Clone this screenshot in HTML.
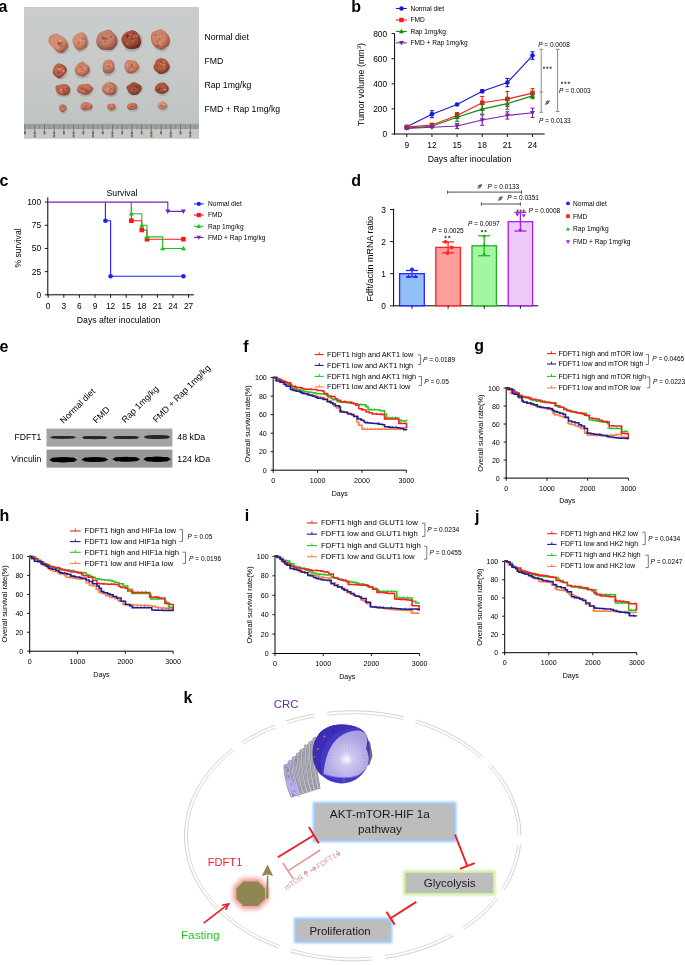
<!DOCTYPE html><html><head><meta charset="utf-8"><title>Figure</title><style>html,body{margin:0;padding:0;background:#fff;width:685px;height:965px;overflow:hidden}svg{display:block;will-change:transform}text{font-family:"Liberation Sans",sans-serif}</style></head><body>
<svg width="685" height="965" viewBox="0 0 685 965" font-family="&quot;Liberation Sans&quot;, sans-serif">
<defs>
<linearGradient id="photobg" x1="0" y1="0" x2="0" y2="1">
 <stop offset="0" stop-color="#cacdcd"/><stop offset="0.5" stop-color="#c6c9c8"/><stop offset="1" stop-color="#bdc2c0"/>
</linearGradient>
<radialGradient id="tumL" cx="0.45" cy="0.4" r="0.6">
 <stop offset="0" stop-color="#e29a82"/><stop offset="0.6" stop-color="#cf7b64"/><stop offset="1" stop-color="#a85848"/>
</radialGradient>
<radialGradient id="tumM" cx="0.45" cy="0.4" r="0.6">
 <stop offset="0" stop-color="#d48a72"/><stop offset="0.6" stop-color="#b86452"/><stop offset="1" stop-color="#8c4036"/>
</radialGradient>
<radialGradient id="tumD" cx="0.5" cy="0.45" r="0.6">
 <stop offset="0" stop-color="#b2604c"/><stop offset="0.55" stop-color="#94443a"/><stop offset="1" stop-color="#6a2820"/>
</radialGradient>
<radialGradient id="cutface" cx="0.5" cy="0.6" r="0.6">
 <stop offset="0" stop-color="#f2f0ff"/><stop offset="0.25" stop-color="#c8c0ee"/><stop offset="1" stop-color="#a89ee0"/>
</radialGradient>
<filter id="photoblur" x="-5%" y="-5%" width="110%" height="110%"><feGaussianBlur stdDeviation="0.45"/></filter>
<filter id="bandblur" x="-10%" y="-10%" width="120%" height="120%"><feGaussianBlur stdDeviation="0.75"/></filter>
<filter id="glow" x="-20%" y="-40%" width="140%" height="180%"><feGaussianBlur stdDeviation="1.3"/></filter>
<filter id="glow2" x="-50%" y="-50%" width="200%" height="200%"><feGaussianBlur stdDeviation="2.0"/></filter>
<filter id="cellblur" x="-10%" y="-10%" width="120%" height="120%"><feGaussianBlur stdDeviation="0.35"/></filter>
</defs>
<rect width="685" height="965" fill="#fff"/>
<text x="-1.60" y="11.70" font-size="16" text-anchor="start" fill="#000" font-weight="bold"  style="">a</text>
<g filter="url(#photoblur)">
<rect x="24" y="7" width="175" height="131.5" fill="url(#photobg)"/>
<path d="M50.38,39.36 C50.76,37.79 51.65,35.86 53.02,35.16 C54.39,34.45 56.77,34.80 58.60,35.15 C60.44,35.50 62.42,36.17 64.03,37.26 C65.64,38.35 67.44,40.09 68.26,41.71 C69.07,43.32 69.00,45.29 68.94,46.94 C68.89,48.60 68.79,50.45 67.93,51.65 C67.07,52.85 65.42,53.80 63.79,54.14 C62.15,54.48 59.80,54.49 58.13,53.68 C56.47,52.87 55.03,50.79 53.80,49.28 C52.57,47.76 51.32,46.22 50.75,44.57 C50.18,42.92 50.00,40.93 50.38,39.36 Z" fill="#8f9697" opacity="0.5"/>
<radialGradient id="tg0" cx="0.42" cy="0.38" r="0.65"><stop offset="0" stop-color="#d58c71"/><stop offset="0.5" stop-color="#d58c71"/><stop offset="1" stop-color="#96503c"/></radialGradient>
<path d="M62.79,52.79 C61.34,53.16 58.86,52.62 57.26,51.76 C55.65,50.89 54.54,49.04 53.16,47.59 C51.78,46.15 49.64,44.73 48.98,43.09 C48.31,41.44 48.53,39.14 49.16,37.72 C49.80,36.31 51.34,35.24 52.78,34.62 C54.22,34.00 56.13,33.62 57.79,34.00 C59.45,34.37 61.35,35.69 62.74,36.85 C64.13,38.02 65.20,39.47 66.13,40.97 C67.06,42.48 68.34,44.45 68.31,45.88 C68.28,47.31 66.88,48.39 65.96,49.54 C65.04,50.69 64.24,52.42 62.79,52.79 Z" fill="url(#tg0)"/>
<ellipse cx="59.55" cy="44.44" rx="1.25" ry="0.94" fill="#96503c" opacity="0.55"/>
<ellipse cx="60.96" cy="40.80" rx="0.85" ry="0.86" fill="#efc2b0" opacity="0.45"/>
<ellipse cx="56.95" cy="43.61" rx="1.30" ry="0.99" fill="#efc2b0" opacity="0.45"/>
<ellipse cx="58.29" cy="41.52" rx="1.00" ry="0.57" fill="#96503c" opacity="0.55"/>
<ellipse cx="59.19" cy="41.00" rx="0.75" ry="1.07" fill="#efc2b0" opacity="0.45"/>
<ellipse cx="58.90" cy="43.20" rx="1.87" ry="0.97" fill="#96503c" opacity="0.55"/>
<ellipse cx="61.77" cy="42.92" rx="1.48" ry="1.28" fill="#96503c" opacity="0.55"/>
<ellipse cx="58.82" cy="43.68" rx="1.95" ry="1.26" fill="#96503c" opacity="0.55"/>
<ellipse cx="60.22" cy="44.12" rx="0.68" ry="1.30" fill="#96503c" opacity="0.55"/>
<ellipse cx="60.69" cy="45.98" rx="0.87" ry="1.23" fill="#96503c" opacity="0.55"/>
<ellipse cx="62.09" cy="45.81" rx="1.19" ry="0.71" fill="#96503c" opacity="0.55"/>
<ellipse cx="58.03" cy="48.53" rx="0.67" ry="1.02" fill="#efc2b0" opacity="0.45"/>
<path d="M83.32,51.53 C81.97,52.13 80.06,52.61 78.68,52.14 C77.29,51.67 75.75,50.13 74.98,48.72 C74.22,47.31 74.32,45.43 74.08,43.68 C73.84,41.94 72.97,39.65 73.56,38.26 C74.14,36.87 76.21,36.03 77.57,35.33 C78.92,34.63 80.25,34.13 81.69,34.05 C83.13,33.97 85.09,33.95 86.23,34.84 C87.37,35.74 88.09,37.83 88.55,39.42 C89.00,41.01 89.25,42.87 88.95,44.39 C88.65,45.91 87.68,47.36 86.74,48.55 C85.81,49.74 84.66,50.93 83.32,51.53 Z" fill="#8f9697" opacity="0.5"/>
<radialGradient id="tg1" cx="0.42" cy="0.38" r="0.65"><stop offset="0" stop-color="#d48d6f"/><stop offset="0.5" stop-color="#d48d6f"/><stop offset="1" stop-color="#9b5840"/></radialGradient>
<path d="M87.02,46.30 C86.35,47.57 84.79,48.39 83.53,49.07 C82.27,49.76 80.75,50.57 79.44,50.39 C78.13,50.22 76.71,49.07 75.68,48.01 C74.66,46.94 73.81,45.53 73.29,44.00 C72.76,42.47 72.16,40.36 72.53,38.84 C72.90,37.33 74.37,35.93 75.51,34.90 C76.65,33.87 77.97,33.00 79.36,32.67 C80.75,32.33 82.67,32.16 83.85,32.89 C85.03,33.61 85.85,35.58 86.47,37.01 C87.09,38.44 87.48,39.91 87.57,41.46 C87.67,43.01 87.70,45.03 87.02,46.30 Z" fill="url(#tg1)"/>
<ellipse cx="84.14" cy="38.75" rx="0.87" ry="1.24" fill="#9b5840" opacity="0.55"/>
<ellipse cx="81.47" cy="41.05" rx="1.19" ry="0.82" fill="#efc2b0" opacity="0.45"/>
<ellipse cx="80.01" cy="41.80" rx="1.95" ry="0.74" fill="#9b5840" opacity="0.55"/>
<ellipse cx="80.11" cy="39.98" rx="0.94" ry="0.61" fill="#efc2b0" opacity="0.45"/>
<ellipse cx="82.23" cy="45.46" rx="0.92" ry="1.06" fill="#9b5840" opacity="0.55"/>
<ellipse cx="82.45" cy="38.47" rx="1.88" ry="0.70" fill="#9b5840" opacity="0.55"/>
<ellipse cx="81.92" cy="41.67" rx="0.68" ry="0.68" fill="#9b5840" opacity="0.55"/>
<ellipse cx="78.44" cy="44.09" rx="1.11" ry="1.39" fill="#9b5840" opacity="0.55"/>
<ellipse cx="83.97" cy="40.99" rx="0.93" ry="0.50" fill="#efc2b0" opacity="0.45"/>
<ellipse cx="80.59" cy="41.52" rx="1.03" ry="1.07" fill="#efc2b0" opacity="0.45"/>
<path d="M118.49,43.01 C118.17,44.87 117.01,46.77 115.75,48.25 C114.48,49.73 112.73,51.43 110.92,51.91 C109.12,52.39 106.91,51.62 104.91,51.15 C102.92,50.68 100.09,50.45 98.96,49.10 C97.83,47.74 98.28,44.98 98.11,43.03 C97.94,41.07 97.35,39.11 97.93,37.37 C98.51,35.63 100.00,33.73 101.61,32.58 C103.22,31.43 105.59,30.49 107.59,30.48 C109.59,30.46 111.93,31.37 113.62,32.47 C115.30,33.57 116.88,35.30 117.69,37.06 C118.50,38.81 118.82,41.14 118.49,43.01 Z" fill="#8f9697" opacity="0.5"/>
<radialGradient id="tg2" cx="0.42" cy="0.38" r="0.65"><stop offset="0" stop-color="#c47e6a"/><stop offset="0.5" stop-color="#c47e6a"/><stop offset="1" stop-color="#89493d"/></radialGradient>
<path d="M109.74,29.96 C111.46,30.44 112.92,32.44 114.17,33.89 C115.42,35.34 116.79,36.89 117.24,38.67 C117.70,40.46 117.62,42.84 116.90,44.58 C116.17,46.33 114.53,48.24 112.87,49.15 C111.22,50.06 108.92,50.03 106.96,50.03 C105.00,50.04 102.79,50.06 101.11,49.20 C99.44,48.34 97.69,46.56 96.92,44.87 C96.16,43.17 96.22,40.88 96.53,39.03 C96.85,37.18 97.57,35.11 98.79,33.78 C100.01,32.45 102.01,31.71 103.84,31.07 C105.66,30.43 108.02,29.49 109.74,29.96 Z" fill="url(#tg2)"/>
<ellipse cx="103.02" cy="38.21" rx="1.50" ry="1.49" fill="#89493d" opacity="0.55"/>
<ellipse cx="110.58" cy="36.83" rx="1.63" ry="1.08" fill="#89493d" opacity="0.55"/>
<ellipse cx="101.23" cy="42.43" rx="1.65" ry="0.53" fill="#89493d" opacity="0.55"/>
<ellipse cx="104.03" cy="38.32" rx="1.58" ry="1.00" fill="#89493d" opacity="0.55"/>
<ellipse cx="101.85" cy="36.11" rx="0.62" ry="0.80" fill="#89493d" opacity="0.55"/>
<ellipse cx="106.17" cy="39.04" rx="1.87" ry="1.16" fill="#89493d" opacity="0.55"/>
<ellipse cx="100.86" cy="42.51" rx="1.53" ry="0.70" fill="#89493d" opacity="0.55"/>
<ellipse cx="101.58" cy="42.66" rx="1.19" ry="0.67" fill="#efc2b0" opacity="0.45"/>
<ellipse cx="104.84" cy="39.21" rx="1.30" ry="1.34" fill="#89493d" opacity="0.55"/>
<ellipse cx="109.74" cy="36.28" rx="0.65" ry="0.52" fill="#efc2b0" opacity="0.45"/>
<ellipse cx="104.93" cy="40.88" rx="1.18" ry="1.13" fill="#89493d" opacity="0.55"/>
<ellipse cx="104.55" cy="40.39" rx="1.28" ry="0.72" fill="#efc2b0" opacity="0.45"/>
<ellipse cx="107.00" cy="40.40" rx="0.44" ry="0.90" fill="#efc2b0" opacity="0.45"/>
<ellipse cx="104.81" cy="39.38" rx="0.42" ry="0.50" fill="#efc2b0" opacity="0.45"/>
<path d="M123.64,43.90 C123.12,41.98 121.65,39.88 122.07,38.23 C122.49,36.58 124.66,35.04 126.17,33.99 C127.69,32.94 129.46,32.12 131.16,31.93 C132.85,31.74 134.66,32.24 136.36,32.86 C138.05,33.48 140.27,34.24 141.30,35.65 C142.34,37.05 142.59,39.42 142.59,41.30 C142.59,43.19 142.26,45.37 141.30,46.96 C140.35,48.55 138.59,50.02 136.87,50.87 C135.14,51.71 132.90,52.21 130.96,52.02 C129.01,51.82 126.42,51.07 125.20,49.71 C123.99,48.36 124.17,45.81 123.64,43.90 Z" fill="#8f9697" opacity="0.5"/>
<radialGradient id="tg3" cx="0.42" cy="0.38" r="0.65"><stop offset="0" stop-color="#a55139"/><stop offset="0.5" stop-color="#a55139"/><stop offset="1" stop-color="#62281b"/></radialGradient>
<path d="M127.90,31.57 C129.52,30.87 131.49,30.10 133.13,30.37 C134.76,30.63 136.54,31.95 137.71,33.16 C138.87,34.37 139.58,36.01 140.12,37.63 C140.65,39.25 141.23,41.18 140.91,42.88 C140.59,44.58 139.54,46.79 138.18,47.82 C136.82,48.86 134.54,48.99 132.77,49.10 C131.01,49.20 129.13,49.13 127.59,48.45 C126.05,47.77 124.57,46.45 123.54,45.02 C122.51,43.58 121.44,41.59 121.41,39.85 C121.39,38.11 122.32,35.94 123.40,34.56 C124.48,33.18 126.28,32.26 127.90,31.57 Z" fill="url(#tg3)"/>
<ellipse cx="127.69" cy="36.59" rx="1.71" ry="1.41" fill="#62281b" opacity="0.55"/>
<ellipse cx="137.06" cy="43.33" rx="0.52" ry="0.72" fill="#efc2b0" opacity="0.45"/>
<ellipse cx="127.19" cy="35.58" rx="1.40" ry="1.38" fill="#62281b" opacity="0.55"/>
<ellipse cx="133.46" cy="33.80" rx="1.51" ry="0.70" fill="#62281b" opacity="0.55"/>
<ellipse cx="130.60" cy="34.48" rx="1.05" ry="0.55" fill="#efc2b0" opacity="0.45"/>
<ellipse cx="137.03" cy="36.03" rx="0.88" ry="0.95" fill="#efc2b0" opacity="0.45"/>
<ellipse cx="128.93" cy="45.64" rx="0.71" ry="0.46" fill="#efc2b0" opacity="0.45"/>
<ellipse cx="128.08" cy="41.37" rx="0.84" ry="0.42" fill="#efc2b0" opacity="0.45"/>
<ellipse cx="131.76" cy="39.59" rx="0.56" ry="0.63" fill="#efc2b0" opacity="0.45"/>
<ellipse cx="131.83" cy="39.06" rx="1.32" ry="1.22" fill="#62281b" opacity="0.55"/>
<ellipse cx="134.12" cy="36.00" rx="0.84" ry="1.06" fill="#efc2b0" opacity="0.45"/>
<ellipse cx="132.90" cy="40.78" rx="0.66" ry="0.91" fill="#efc2b0" opacity="0.45"/>
<ellipse cx="129.29" cy="37.26" rx="0.90" ry="0.62" fill="#efc2b0" opacity="0.45"/>
<ellipse cx="127.35" cy="43.94" rx="0.59" ry="1.00" fill="#efc2b0" opacity="0.45"/>
<path d="M168.66,35.62 C169.62,37.43 170.48,39.73 170.46,41.61 C170.44,43.50 169.42,45.35 168.55,46.91 C167.67,48.48 166.63,50.27 165.19,51.01 C163.76,51.75 161.65,51.76 159.94,51.36 C158.22,50.95 156.08,50.00 154.90,48.58 C153.71,47.16 153.48,44.84 152.81,42.85 C152.15,40.86 150.63,38.43 150.89,36.64 C151.16,34.85 153.03,33.17 154.42,32.10 C155.81,31.04 157.50,30.46 159.21,30.23 C160.92,30.01 163.11,29.86 164.68,30.76 C166.25,31.66 167.69,33.82 168.66,35.62 Z" fill="#8f9697" opacity="0.5"/>
<radialGradient id="tg4" cx="0.42" cy="0.38" r="0.65"><stop offset="0" stop-color="#cf8368"/><stop offset="0.5" stop-color="#cf8368"/><stop offset="1" stop-color="#924d3a"/></radialGradient>
<path d="M150.99,38.47 C150.89,36.57 151.11,34.11 152.01,32.78 C152.92,31.46 154.91,31.08 156.43,30.51 C157.94,29.93 159.57,28.99 161.11,29.32 C162.66,29.65 164.30,31.13 165.68,32.48 C167.06,33.82 168.77,35.52 169.40,37.40 C170.03,39.28 170.06,42.04 169.45,43.74 C168.85,45.44 167.10,46.59 165.77,47.61 C164.44,48.63 162.97,49.81 161.46,49.84 C159.94,49.87 158.16,48.76 156.68,47.82 C155.21,46.87 153.55,45.72 152.60,44.16 C151.65,42.60 151.09,40.36 150.99,38.47 Z" fill="url(#tg4)"/>
<ellipse cx="162.21" cy="33.37" rx="1.04" ry="0.69" fill="#924d3a" opacity="0.55"/>
<ellipse cx="155.79" cy="34.88" rx="1.69" ry="0.52" fill="#924d3a" opacity="0.55"/>
<ellipse cx="160.48" cy="41.08" rx="0.69" ry="0.65" fill="#efc2b0" opacity="0.45"/>
<ellipse cx="159.53" cy="38.97" rx="0.51" ry="0.76" fill="#efc2b0" opacity="0.45"/>
<ellipse cx="160.00" cy="40.97" rx="0.79" ry="0.66" fill="#efc2b0" opacity="0.45"/>
<ellipse cx="157.21" cy="41.54" rx="0.89" ry="1.13" fill="#924d3a" opacity="0.55"/>
<ellipse cx="157.89" cy="36.50" rx="0.95" ry="1.00" fill="#efc2b0" opacity="0.45"/>
<ellipse cx="160.50" cy="44.96" rx="1.21" ry="0.62" fill="#efc2b0" opacity="0.45"/>
<ellipse cx="157.75" cy="45.79" rx="2.00" ry="1.39" fill="#924d3a" opacity="0.55"/>
<ellipse cx="160.98" cy="40.82" rx="0.63" ry="0.47" fill="#efc2b0" opacity="0.45"/>
<ellipse cx="161.28" cy="36.78" rx="0.51" ry="0.68" fill="#efc2b0" opacity="0.45"/>
<ellipse cx="159.96" cy="39.38" rx="1.56" ry="1.41" fill="#924d3a" opacity="0.55"/>
<ellipse cx="160.70" cy="39.33" rx="1.08" ry="0.75" fill="#efc2b0" opacity="0.45"/>
<path d="M57.83,65.35 C59.07,64.97 60.39,64.82 61.58,65.05 C62.77,65.27 64.08,65.87 64.95,66.71 C65.82,67.55 66.40,68.85 66.81,70.10 C67.22,71.36 67.72,72.95 67.43,74.23 C67.15,75.50 66.12,76.88 65.11,77.77 C64.10,78.66 62.63,79.47 61.38,79.55 C60.13,79.63 58.69,78.91 57.59,78.26 C56.48,77.60 55.39,76.70 54.75,75.62 C54.10,74.53 53.83,73.12 53.73,71.74 C53.62,70.37 53.44,68.43 54.12,67.36 C54.81,66.30 56.59,65.74 57.83,65.35 Z" fill="#8f9697" opacity="0.5"/>
<radialGradient id="tg5" cx="0.42" cy="0.38" r="0.65"><stop offset="0" stop-color="#bb644b"/><stop offset="0.5" stop-color="#bb644b"/><stop offset="1" stop-color="#763023"/></radialGradient>
<path d="M66.97,70.10 C66.95,71.36 65.80,72.77 65.06,73.81 C64.32,74.86 63.54,75.62 62.53,76.39 C61.53,77.16 60.19,78.44 59.02,78.43 C57.85,78.41 56.54,77.16 55.52,76.29 C54.49,75.42 53.26,74.40 52.87,73.20 C52.49,71.99 52.87,70.35 53.20,69.07 C53.53,67.79 54.02,66.43 54.86,65.51 C55.69,64.58 57.01,63.79 58.20,63.53 C59.39,63.28 60.82,63.52 61.99,63.97 C63.15,64.42 64.35,65.22 65.18,66.24 C66.01,67.26 66.99,68.84 66.97,70.10 Z" fill="url(#tg5)"/>
<ellipse cx="62.93" cy="70.89" rx="0.56" ry="0.72" fill="#efc2b0" opacity="0.45"/>
<ellipse cx="59.47" cy="68.56" rx="0.83" ry="1.01" fill="#763023" opacity="0.55"/>
<ellipse cx="63.83" cy="71.04" rx="1.03" ry="1.00" fill="#efc2b0" opacity="0.45"/>
<ellipse cx="58.27" cy="69.12" rx="0.85" ry="1.09" fill="#efc2b0" opacity="0.45"/>
<ellipse cx="60.01" cy="69.37" rx="1.07" ry="0.94" fill="#efc2b0" opacity="0.45"/>
<ellipse cx="60.36" cy="68.72" rx="1.19" ry="0.89" fill="#efc2b0" opacity="0.45"/>
<ellipse cx="59.99" cy="66.76" rx="1.61" ry="0.57" fill="#763023" opacity="0.55"/>
<ellipse cx="58.39" cy="72.58" rx="1.10" ry="1.14" fill="#763023" opacity="0.55"/>
<path d="M77.64,65.62 C78.65,64.52 79.69,62.91 81.03,62.52 C82.36,62.12 84.34,62.61 85.65,63.23 C86.97,63.85 88.03,65.07 88.90,66.23 C89.78,67.38 90.76,68.78 90.92,70.16 C91.08,71.54 90.57,73.28 89.87,74.53 C89.17,75.78 87.96,77.01 86.72,77.66 C85.48,78.31 83.90,78.40 82.42,78.41 C80.93,78.42 78.98,78.50 77.81,77.71 C76.65,76.92 75.88,75.09 75.41,73.66 C74.93,72.24 74.59,70.48 74.96,69.14 C75.33,67.80 76.63,66.73 77.64,65.62 Z" fill="#8f9697" opacity="0.5"/>
<radialGradient id="tg6" cx="0.42" cy="0.38" r="0.65"><stop offset="0" stop-color="#ce8064"/><stop offset="0.5" stop-color="#ce8064"/><stop offset="1" stop-color="#924e3d"/></radialGradient>
<path d="M82.58,61.41 C83.81,61.55 84.93,63.23 86.01,64.14 C87.10,65.05 88.50,65.69 89.09,66.85 C89.69,68.02 89.93,69.88 89.58,71.15 C89.22,72.42 87.98,73.57 86.98,74.48 C85.97,75.38 84.76,76.37 83.54,76.59 C82.32,76.81 80.83,76.30 79.65,75.81 C78.46,75.32 77.24,74.63 76.44,73.66 C75.63,72.70 74.87,71.25 74.80,70.02 C74.73,68.78 75.39,67.35 76.03,66.24 C76.66,65.12 77.54,64.13 78.63,63.33 C79.72,62.52 81.35,61.27 82.58,61.41 Z" fill="url(#tg6)"/>
<ellipse cx="84.36" cy="67.90" rx="1.27" ry="0.80" fill="#efc2b0" opacity="0.45"/>
<ellipse cx="85.30" cy="69.39" rx="0.47" ry="0.82" fill="#efc2b0" opacity="0.45"/>
<ellipse cx="82.01" cy="69.27" rx="0.54" ry="0.73" fill="#efc2b0" opacity="0.45"/>
<ellipse cx="83.25" cy="71.74" rx="0.45" ry="1.06" fill="#efc2b0" opacity="0.45"/>
<ellipse cx="79.60" cy="70.81" rx="0.73" ry="0.60" fill="#efc2b0" opacity="0.45"/>
<ellipse cx="80.36" cy="67.10" rx="1.60" ry="0.80" fill="#924e3d" opacity="0.55"/>
<ellipse cx="83.26" cy="69.61" rx="0.82" ry="1.25" fill="#924e3d" opacity="0.55"/>
<ellipse cx="78.42" cy="72.47" rx="0.45" ry="1.09" fill="#efc2b0" opacity="0.45"/>
<path d="M115.22,66.85 C115.39,68.34 116.14,70.03 115.74,71.30 C115.33,72.57 113.86,73.68 112.79,74.46 C111.72,75.25 110.53,75.80 109.30,76.01 C108.08,76.22 106.37,76.43 105.43,75.73 C104.49,75.02 104.09,73.12 103.66,71.78 C103.22,70.44 102.75,69.11 102.79,67.68 C102.84,66.25 103.16,64.35 103.92,63.19 C104.68,62.02 106.17,61.08 107.37,60.68 C108.57,60.28 109.90,60.50 111.13,60.78 C112.35,61.05 114.03,61.32 114.72,62.33 C115.40,63.35 115.05,65.35 115.22,66.85 Z" fill="#8f9697" opacity="0.5"/>
<radialGradient id="tg7" cx="0.42" cy="0.38" r="0.65"><stop offset="0" stop-color="#cb836a"/><stop offset="0.5" stop-color="#cb836a"/><stop offset="1" stop-color="#90503e"/></radialGradient>
<path d="M112.08,60.63 C112.90,61.37 113.27,62.89 113.68,64.11 C114.10,65.34 114.72,66.73 114.57,68.00 C114.42,69.26 113.58,70.78 112.77,71.72 C111.96,72.66 110.76,73.34 109.72,73.63 C108.67,73.91 107.56,73.74 106.53,73.45 C105.49,73.17 104.14,72.81 103.51,71.91 C102.88,71.01 102.82,69.35 102.74,68.04 C102.66,66.73 102.60,65.28 103.03,64.04 C103.45,62.81 104.32,61.36 105.27,60.64 C106.22,59.92 107.61,59.70 108.74,59.70 C109.88,59.70 111.26,59.90 112.08,60.63 Z" fill="url(#tg7)"/>
<ellipse cx="108.21" cy="70.01" rx="1.69" ry="1.03" fill="#90503e" opacity="0.55"/>
<ellipse cx="112.47" cy="66.91" rx="0.61" ry="0.48" fill="#efc2b0" opacity="0.45"/>
<ellipse cx="111.01" cy="64.45" rx="0.72" ry="0.59" fill="#efc2b0" opacity="0.45"/>
<ellipse cx="107.44" cy="64.32" rx="0.97" ry="0.93" fill="#efc2b0" opacity="0.45"/>
<ellipse cx="108.79" cy="68.20" rx="1.22" ry="1.02" fill="#efc2b0" opacity="0.45"/>
<ellipse cx="108.65" cy="67.08" rx="1.20" ry="1.12" fill="#90503e" opacity="0.55"/>
<ellipse cx="110.25" cy="68.68" rx="0.72" ry="1.18" fill="#90503e" opacity="0.55"/>
<path d="M124.99,65.57 C125.46,64.38 126.63,63.29 127.72,62.51 C128.82,61.73 130.25,60.98 131.55,60.87 C132.86,60.77 134.38,61.32 135.57,61.89 C136.77,62.46 137.91,63.29 138.71,64.31 C139.51,65.33 140.31,66.74 140.37,68.03 C140.43,69.31 139.97,71.09 139.09,72.03 C138.21,72.98 136.41,73.35 135.09,73.70 C133.78,74.06 132.55,74.24 131.19,74.17 C129.83,74.10 127.98,74.03 126.93,73.27 C125.88,72.50 125.19,70.89 124.86,69.61 C124.54,68.33 124.51,66.75 124.99,65.57 Z" fill="#8f9697" opacity="0.5"/>
<radialGradient id="tg8" cx="0.42" cy="0.38" r="0.65"><stop offset="0" stop-color="#d28568"/><stop offset="0.5" stop-color="#d28568"/><stop offset="1" stop-color="#96513e"/></radialGradient>
<path d="M132.28,60.32 C133.60,60.55 135.04,60.76 135.99,61.47 C136.95,62.18 137.54,63.43 138.02,64.57 C138.50,65.70 139.19,67.18 138.89,68.29 C138.60,69.40 137.26,70.42 136.24,71.24 C135.21,72.06 134.06,72.88 132.76,73.20 C131.45,73.53 129.58,73.69 128.41,73.17 C127.25,72.65 126.46,71.17 125.76,70.09 C125.06,69.01 124.35,67.88 124.23,66.68 C124.11,65.49 124.40,64.02 125.04,62.92 C125.67,61.82 126.86,60.51 128.06,60.08 C129.27,59.64 130.96,60.09 132.28,60.32 Z" fill="url(#tg8)"/>
<ellipse cx="129.83" cy="67.25" rx="1.83" ry="0.58" fill="#96513e" opacity="0.55"/>
<ellipse cx="133.97" cy="67.80" rx="1.56" ry="0.80" fill="#96513e" opacity="0.55"/>
<ellipse cx="131.56" cy="66.15" rx="1.53" ry="0.58" fill="#96513e" opacity="0.55"/>
<ellipse cx="130.29" cy="69.66" rx="0.65" ry="0.50" fill="#efc2b0" opacity="0.45"/>
<ellipse cx="129.21" cy="69.12" rx="0.76" ry="1.21" fill="#96513e" opacity="0.55"/>
<ellipse cx="127.30" cy="64.72" rx="1.22" ry="0.71" fill="#efc2b0" opacity="0.45"/>
<ellipse cx="132.00" cy="65.17" rx="1.16" ry="1.43" fill="#96513e" opacity="0.55"/>
<path d="M168.91,62.67 C169.76,63.88 170.57,65.23 170.74,66.59 C170.90,67.95 170.54,69.61 169.87,70.84 C169.20,72.07 167.98,73.26 166.72,73.96 C165.46,74.66 163.75,75.09 162.30,75.03 C160.84,74.96 159.12,74.41 157.98,73.58 C156.84,72.75 156.05,71.34 155.46,70.04 C154.87,68.74 154.30,67.19 154.45,65.77 C154.60,64.35 155.30,62.55 156.35,61.51 C157.40,60.48 159.20,59.92 160.74,59.56 C162.29,59.19 164.25,58.82 165.61,59.34 C166.98,59.86 168.05,61.47 168.91,62.67 Z" fill="#8f9697" opacity="0.5"/>
<radialGradient id="tg9" cx="0.42" cy="0.38" r="0.65"><stop offset="0" stop-color="#b15c43"/><stop offset="0.5" stop-color="#b15c43"/><stop offset="1" stop-color="#6f2f21"/></radialGradient>
<path d="M154.97,63.32 C155.56,62.00 155.97,60.42 157.06,59.52 C158.15,58.62 160.06,57.88 161.50,57.93 C162.93,57.99 164.54,58.99 165.65,59.83 C166.77,60.67 167.52,61.80 168.19,62.96 C168.86,64.13 169.71,65.51 169.68,66.80 C169.65,68.10 168.90,69.68 168.01,70.75 C167.11,71.82 165.72,72.68 164.33,73.21 C162.94,73.75 161.08,74.27 159.66,73.94 C158.25,73.62 156.86,72.35 155.84,71.27 C154.82,70.18 153.70,68.74 153.55,67.41 C153.41,66.09 154.39,64.63 154.97,63.32 Z" fill="url(#tg9)"/>
<ellipse cx="164.58" cy="67.12" rx="0.48" ry="0.46" fill="#efc2b0" opacity="0.45"/>
<ellipse cx="161.38" cy="61.30" rx="1.49" ry="0.64" fill="#6f2f21" opacity="0.55"/>
<ellipse cx="161.70" cy="62.59" rx="0.91" ry="1.27" fill="#6f2f21" opacity="0.55"/>
<ellipse cx="157.61" cy="65.46" rx="1.07" ry="1.47" fill="#6f2f21" opacity="0.55"/>
<ellipse cx="160.52" cy="63.71" rx="1.05" ry="0.90" fill="#efc2b0" opacity="0.45"/>
<ellipse cx="163.75" cy="64.90" rx="1.00" ry="1.00" fill="#efc2b0" opacity="0.45"/>
<ellipse cx="163.38" cy="61.89" rx="1.26" ry="0.85" fill="#efc2b0" opacity="0.45"/>
<ellipse cx="157.92" cy="65.45" rx="0.78" ry="0.69" fill="#efc2b0" opacity="0.45"/>
<ellipse cx="164.29" cy="69.09" rx="0.74" ry="0.52" fill="#efc2b0" opacity="0.45"/>
<path d="M66.13,96.95 C64.77,97.24 63.23,97.03 61.75,96.79 C60.28,96.55 58.14,96.34 57.30,95.49 C56.45,94.65 56.75,92.93 56.68,91.74 C56.61,90.55 56.36,89.32 56.90,88.35 C57.43,87.39 58.73,86.61 59.90,85.94 C61.06,85.26 62.46,84.43 63.89,84.31 C65.31,84.19 67.31,84.53 68.45,85.21 C69.59,85.89 70.26,87.32 70.70,88.40 C71.15,89.49 71.26,90.61 71.13,91.72 C70.99,92.83 70.74,94.18 69.91,95.05 C69.07,95.92 67.49,96.66 66.13,96.95 Z" fill="#8f9697" opacity="0.5"/>
<radialGradient id="tg10" cx="0.42" cy="0.38" r="0.65"><stop offset="0" stop-color="#be694e"/><stop offset="0.5" stop-color="#be694e"/><stop offset="1" stop-color="#813b2b"/></radialGradient>
<path d="M55.89,86.34 C56.58,85.49 58.56,85.13 59.86,84.75 C61.16,84.38 62.43,84.02 63.69,84.10 C64.94,84.17 66.40,84.58 67.42,85.19 C68.43,85.80 69.35,86.80 69.78,87.76 C70.21,88.72 70.21,89.89 69.99,90.95 C69.77,92.02 69.38,93.37 68.46,94.14 C67.53,94.92 65.80,95.49 64.44,95.61 C63.09,95.73 61.52,95.32 60.31,94.86 C59.10,94.40 57.95,93.68 57.19,92.85 C56.43,92.02 55.96,90.94 55.74,89.86 C55.52,88.77 55.20,87.19 55.89,86.34 Z" fill="url(#tg10)"/>
<ellipse cx="64.89" cy="92.41" rx="1.37" ry="1.32" fill="#813b2b" opacity="0.55"/>
<ellipse cx="61.63" cy="89.74" rx="1.22" ry="0.64" fill="#efc2b0" opacity="0.45"/>
<ellipse cx="58.13" cy="88.43" rx="0.91" ry="0.55" fill="#813b2b" opacity="0.55"/>
<ellipse cx="67.03" cy="88.50" rx="1.34" ry="1.02" fill="#813b2b" opacity="0.55"/>
<ellipse cx="62.20" cy="93.71" rx="0.61" ry="0.41" fill="#efc2b0" opacity="0.45"/>
<ellipse cx="61.05" cy="89.87" rx="1.04" ry="0.82" fill="#efc2b0" opacity="0.45"/>
<ellipse cx="63.46" cy="90.15" rx="0.96" ry="1.37" fill="#813b2b" opacity="0.55"/>
<path d="M77.10,90.68 C76.94,89.66 77.23,88.15 78.17,87.32 C79.10,86.49 81.17,86.10 82.68,85.69 C84.20,85.28 85.85,84.75 87.25,84.87 C88.64,84.99 89.87,85.81 91.05,86.44 C92.22,87.07 93.97,87.77 94.27,88.65 C94.57,89.54 93.35,90.74 92.85,91.78 C92.34,92.82 92.30,94.13 91.26,94.90 C90.22,95.68 88.21,96.24 86.61,96.43 C85.01,96.61 82.92,96.52 81.66,96.02 C80.40,95.52 79.83,94.31 79.07,93.42 C78.31,92.53 77.25,91.69 77.10,90.68 Z" fill="#8f9697" opacity="0.5"/>
<radialGradient id="tg11" cx="0.42" cy="0.38" r="0.65"><stop offset="0" stop-color="#c87358"/><stop offset="0.5" stop-color="#c87358"/><stop offset="1" stop-color="#8c4534"/></radialGradient>
<path d="M84.24,94.65 C82.81,94.54 81.57,93.81 80.42,93.27 C79.28,92.73 77.93,92.20 77.36,91.41 C76.80,90.61 76.83,89.49 77.04,88.51 C77.25,87.53 77.62,86.24 78.62,85.51 C79.62,84.77 81.52,84.39 83.04,84.11 C84.57,83.83 86.44,83.52 87.76,83.81 C89.07,84.11 90.01,85.12 90.92,85.88 C91.83,86.63 93.09,87.46 93.22,88.36 C93.35,89.26 92.41,90.36 91.70,91.29 C91.00,92.22 90.22,93.37 88.97,93.93 C87.73,94.49 85.66,94.76 84.24,94.65 Z" fill="url(#tg11)"/>
<ellipse cx="88.69" cy="90.83" rx="1.36" ry="1.03" fill="#8c4534" opacity="0.55"/>
<ellipse cx="87.36" cy="91.73" rx="1.04" ry="0.58" fill="#8c4534" opacity="0.55"/>
<ellipse cx="83.91" cy="90.80" rx="0.72" ry="0.88" fill="#efc2b0" opacity="0.45"/>
<ellipse cx="86.54" cy="90.08" rx="1.95" ry="1.33" fill="#8c4534" opacity="0.55"/>
<ellipse cx="84.76" cy="89.16" rx="1.59" ry="0.74" fill="#8c4534" opacity="0.55"/>
<ellipse cx="82.44" cy="88.55" rx="1.99" ry="1.30" fill="#8c4534" opacity="0.55"/>
<ellipse cx="85.73" cy="91.36" rx="1.13" ry="1.04" fill="#8c4534" opacity="0.55"/>
<path d="M108.38,96.64 C107.09,96.26 105.77,95.43 104.83,94.45 C103.88,93.47 102.85,92.04 102.71,90.76 C102.57,89.48 103.31,87.92 103.99,86.77 C104.67,85.63 105.66,84.67 106.79,83.89 C107.91,83.10 109.41,82.06 110.73,82.06 C112.05,82.05 113.46,83.10 114.72,83.85 C115.98,84.60 117.69,85.38 118.28,86.57 C118.88,87.76 118.58,89.59 118.30,90.99 C118.02,92.38 117.55,94.01 116.59,94.96 C115.64,95.91 113.95,96.41 112.58,96.69 C111.21,96.97 109.68,97.01 108.38,96.64 Z" fill="#8f9697" opacity="0.5"/>
<radialGradient id="tg12" cx="0.42" cy="0.38" r="0.65"><stop offset="0" stop-color="#c88068"/><stop offset="0.5" stop-color="#c88068"/><stop offset="1" stop-color="#8c4c3c"/></radialGradient>
<path d="M112.80,82.80 C113.88,83.36 114.98,84.27 115.58,85.28 C116.18,86.28 116.36,87.59 116.40,88.83 C116.44,90.08 116.49,91.66 115.84,92.73 C115.19,93.81 113.74,94.92 112.49,95.28 C111.25,95.65 109.67,95.23 108.38,94.93 C107.08,94.62 105.78,94.23 104.74,93.45 C103.69,92.66 102.46,91.45 102.12,90.23 C101.78,89.01 102.11,87.27 102.68,86.14 C103.26,85.01 104.52,84.14 105.58,83.43 C106.65,82.73 107.87,82.02 109.07,81.91 C110.28,81.80 111.71,82.24 112.80,82.80 Z" fill="url(#tg12)"/>
<ellipse cx="110.05" cy="89.01" rx="0.70" ry="1.42" fill="#8c4c3c" opacity="0.55"/>
<ellipse cx="107.36" cy="89.61" rx="1.09" ry="0.97" fill="#efc2b0" opacity="0.45"/>
<ellipse cx="108.42" cy="89.57" rx="0.62" ry="0.90" fill="#8c4c3c" opacity="0.55"/>
<ellipse cx="108.14" cy="83.93" rx="0.99" ry="0.83" fill="#efc2b0" opacity="0.45"/>
<ellipse cx="111.38" cy="88.69" rx="1.51" ry="0.61" fill="#8c4c3c" opacity="0.55"/>
<ellipse cx="107.83" cy="90.24" rx="1.14" ry="0.83" fill="#efc2b0" opacity="0.45"/>
<ellipse cx="111.83" cy="91.65" rx="0.89" ry="0.65" fill="#efc2b0" opacity="0.45"/>
<ellipse cx="108.98" cy="88.50" rx="1.29" ry="0.76" fill="#efc2b0" opacity="0.45"/>
<path d="M133.29,83.34 C134.71,83.21 136.19,83.94 137.62,84.34 C139.05,84.75 140.96,84.91 141.87,85.76 C142.78,86.60 143.13,88.24 143.07,89.40 C143.02,90.56 142.30,91.78 141.55,92.71 C140.80,93.63 139.72,94.43 138.56,94.95 C137.40,95.48 135.98,95.85 134.61,95.87 C133.25,95.88 131.57,95.65 130.39,95.04 C129.21,94.43 127.96,93.29 127.52,92.22 C127.08,91.16 127.47,89.83 127.73,88.64 C127.99,87.45 128.15,85.97 129.08,85.09 C130.00,84.21 131.86,83.46 133.29,83.34 Z" fill="#8f9697" opacity="0.5"/>
<radialGradient id="tg13" cx="0.42" cy="0.38" r="0.65"><stop offset="0" stop-color="#a0513c"/><stop offset="0.5" stop-color="#a0513c"/><stop offset="1" stop-color="#682e20"/></radialGradient>
<path d="M129.48,93.09 C128.56,92.29 128.18,91.26 127.67,90.22 C127.15,89.19 126.06,87.83 126.39,86.88 C126.72,85.93 128.53,85.29 129.62,84.53 C130.71,83.76 131.67,82.53 132.93,82.30 C134.19,82.07 135.94,82.65 137.19,83.15 C138.44,83.64 139.68,84.40 140.43,85.29 C141.18,86.18 141.73,87.46 141.69,88.50 C141.65,89.55 140.87,90.58 140.19,91.56 C139.52,92.54 138.81,93.78 137.65,94.36 C136.48,94.94 134.54,95.24 133.18,95.03 C131.82,94.82 130.40,93.89 129.48,93.09 Z" fill="url(#tg13)"/>
<ellipse cx="135.47" cy="86.33" rx="1.75" ry="0.79" fill="#682e20" opacity="0.55"/>
<ellipse cx="135.19" cy="88.00" rx="1.15" ry="0.53" fill="#efc2b0" opacity="0.45"/>
<ellipse cx="133.82" cy="88.51" rx="0.85" ry="1.49" fill="#682e20" opacity="0.55"/>
<ellipse cx="137.36" cy="87.58" rx="1.54" ry="1.24" fill="#682e20" opacity="0.55"/>
<ellipse cx="131.95" cy="90.26" rx="0.41" ry="0.54" fill="#efc2b0" opacity="0.45"/>
<ellipse cx="133.47" cy="88.72" rx="1.40" ry="0.67" fill="#682e20" opacity="0.55"/>
<ellipse cx="132.84" cy="88.47" rx="0.70" ry="0.85" fill="#efc2b0" opacity="0.45"/>
<path d="M169.64,91.06 C169.28,92.06 168.02,92.80 167.09,93.63 C166.16,94.46 165.24,95.76 164.05,96.03 C162.86,96.31 161.13,95.78 159.95,95.28 C158.76,94.79 157.64,93.96 156.93,93.06 C156.23,92.16 155.82,90.97 155.73,89.88 C155.64,88.79 155.80,87.50 156.39,86.53 C156.98,85.56 158.12,84.60 159.27,84.07 C160.42,83.53 161.99,83.22 163.30,83.32 C164.61,83.42 166.16,83.92 167.14,84.65 C168.13,85.37 168.78,86.57 169.20,87.64 C169.61,88.71 169.99,90.06 169.64,91.06 Z" fill="#8f9697" opacity="0.5"/>
<radialGradient id="tg14" cx="0.42" cy="0.38" r="0.65"><stop offset="0" stop-color="#aa5743"/><stop offset="0.5" stop-color="#aa5743"/><stop offset="1" stop-color="#6f2f20"/></radialGradient>
<path d="M168.74,88.08 C168.89,89.10 168.47,90.50 167.78,91.35 C167.09,92.21 165.74,92.81 164.61,93.21 C163.48,93.62 162.20,93.88 161.01,93.80 C159.83,93.71 158.52,93.32 157.51,92.72 C156.50,92.13 155.31,91.19 154.93,90.22 C154.56,89.25 154.90,87.92 155.27,86.92 C155.64,85.91 156.30,84.86 157.17,84.19 C158.05,83.51 159.33,83.11 160.54,82.86 C161.74,82.62 163.36,82.31 164.42,82.70 C165.49,83.10 166.20,84.32 166.92,85.21 C167.64,86.11 168.60,87.06 168.74,88.08 Z" fill="url(#tg14)"/>
<ellipse cx="164.86" cy="89.26" rx="1.06" ry="0.82" fill="#efc2b0" opacity="0.45"/>
<ellipse cx="161.71" cy="87.11" rx="0.46" ry="0.49" fill="#efc2b0" opacity="0.45"/>
<ellipse cx="159.51" cy="88.95" rx="0.67" ry="1.19" fill="#6f2f20" opacity="0.55"/>
<ellipse cx="160.61" cy="88.15" rx="1.15" ry="0.74" fill="#6f2f20" opacity="0.55"/>
<ellipse cx="165.53" cy="89.79" rx="1.00" ry="1.01" fill="#efc2b0" opacity="0.45"/>
<ellipse cx="158.43" cy="89.80" rx="1.65" ry="1.07" fill="#6f2f20" opacity="0.55"/>
<path d="M66.79,107.24 C67.23,107.92 68.01,108.61 68.04,109.32 C68.07,110.04 67.38,110.85 66.97,111.52 C66.55,112.19 66.18,112.93 65.56,113.37 C64.94,113.81 63.93,114.30 63.23,114.16 C62.54,114.02 61.93,113.08 61.39,112.52 C60.86,111.96 60.26,111.47 60.01,110.80 C59.76,110.13 59.72,109.21 59.88,108.49 C60.05,107.77 60.47,106.95 61.00,106.47 C61.52,106.00 62.29,105.85 63.03,105.64 C63.76,105.43 64.75,104.94 65.38,105.21 C66.01,105.47 66.35,106.55 66.79,107.24 Z" fill="#8f9697" opacity="0.5"/>
<radialGradient id="tg15" cx="0.42" cy="0.38" r="0.65"><stop offset="0" stop-color="#c8735a"/><stop offset="0.5" stop-color="#c8735a"/><stop offset="1" stop-color="#8c4534"/></radialGradient>
<path d="M64.24,104.69 C64.84,104.98 65.40,105.52 65.78,106.09 C66.17,106.66 66.58,107.46 66.56,108.12 C66.54,108.78 66.05,109.51 65.67,110.06 C65.28,110.60 64.81,111.00 64.25,111.39 C63.69,111.77 62.93,112.43 62.31,112.38 C61.69,112.33 61.03,111.58 60.52,111.08 C60.02,110.58 59.54,110.04 59.27,109.37 C59.01,108.71 58.78,107.81 58.92,107.09 C59.06,106.36 59.54,105.48 60.09,105.03 C60.63,104.57 61.51,104.43 62.20,104.37 C62.90,104.32 63.64,104.41 64.24,104.69 Z" fill="url(#tg15)"/>
<ellipse cx="63.01" cy="108.98" rx="1.21" ry="0.54" fill="#efc2b0" opacity="0.45"/>
<ellipse cx="63.28" cy="107.38" rx="0.84" ry="1.38" fill="#8c4534" opacity="0.55"/>
<ellipse cx="63.32" cy="108.18" rx="0.57" ry="1.02" fill="#efc2b0" opacity="0.45"/>
<path d="M92.71,108.85 C92.47,109.62 92.15,110.67 91.33,111.16 C90.52,111.65 89.02,111.69 87.80,111.81 C86.59,111.93 85.15,112.16 84.05,111.86 C82.95,111.57 81.82,110.77 81.21,110.04 C80.61,109.31 80.27,108.26 80.43,107.47 C80.59,106.68 81.52,105.98 82.20,105.30 C82.88,104.62 83.50,103.79 84.51,103.39 C85.52,102.99 87.14,102.72 88.29,102.88 C89.43,103.05 90.63,103.78 91.38,104.39 C92.13,105.01 92.55,105.83 92.77,106.58 C92.99,107.32 92.95,108.09 92.71,108.85 Z" fill="#8f9697" opacity="0.5"/>
<radialGradient id="tg16" cx="0.42" cy="0.38" r="0.65"><stop offset="0" stop-color="#cd7a60"/><stop offset="0.5" stop-color="#cd7a60"/><stop offset="1" stop-color="#924b3d"/></radialGradient>
<path d="M87.17,110.09 C86.07,110.23 84.69,110.42 83.75,110.14 C82.81,109.86 82.07,109.04 81.54,108.41 C81.01,107.79 80.62,107.08 80.58,106.40 C80.55,105.72 80.86,104.97 81.34,104.34 C81.82,103.70 82.55,102.96 83.48,102.59 C84.41,102.21 85.87,101.98 86.94,102.10 C88.01,102.21 89.05,102.80 89.91,103.29 C90.77,103.78 91.67,104.35 92.10,105.03 C92.52,105.72 92.74,106.69 92.44,107.41 C92.15,108.12 91.20,108.86 90.32,109.31 C89.44,109.75 88.26,109.95 87.17,110.09 Z" fill="url(#tg16)"/>
<ellipse cx="86.37" cy="107.14" rx="1.00" ry="0.59" fill="#efc2b0" opacity="0.45"/>
<ellipse cx="85.96" cy="106.11" rx="0.80" ry="0.77" fill="#efc2b0" opacity="0.45"/>
<ellipse cx="86.01" cy="106.28" rx="0.66" ry="0.58" fill="#efc2b0" opacity="0.45"/>
<ellipse cx="86.32" cy="106.07" rx="1.66" ry="0.75" fill="#924b3d" opacity="0.55"/>
<ellipse cx="85.78" cy="107.81" rx="1.86" ry="1.49" fill="#924b3d" opacity="0.55"/>
<path d="M116.76,109.07 C116.58,109.76 116.31,110.58 115.73,111.04 C115.14,111.50 114.13,111.66 113.27,111.83 C112.41,112.00 111.34,112.29 110.57,112.07 C109.80,111.85 109.05,111.11 108.63,110.53 C108.20,109.94 108.08,109.23 108.01,108.56 C107.94,107.89 107.88,107.12 108.21,106.52 C108.55,105.92 109.29,105.26 110.02,104.96 C110.75,104.66 111.75,104.67 112.61,104.71 C113.46,104.76 114.42,104.87 115.13,105.24 C115.84,105.61 116.58,106.28 116.85,106.92 C117.12,107.56 116.95,108.38 116.76,109.07 Z" fill="#8f9697" opacity="0.5"/>
<radialGradient id="tg17" cx="0.42" cy="0.38" r="0.65"><stop offset="0" stop-color="#c87860"/><stop offset="0.5" stop-color="#c87860"/><stop offset="1" stop-color="#8c493a"/></radialGradient>
<path d="M107.22,106.66 C107.25,106.05 107.43,105.28 107.89,104.80 C108.36,104.31 109.25,103.93 110.01,103.76 C110.77,103.59 111.64,103.66 112.43,103.79 C113.22,103.92 114.27,104.10 114.74,104.54 C115.21,104.98 115.13,105.81 115.26,106.44 C115.39,107.07 115.77,107.81 115.50,108.32 C115.23,108.84 114.30,109.18 113.65,109.52 C112.99,109.86 112.28,110.34 111.57,110.37 C110.86,110.40 110.03,110.01 109.38,109.69 C108.74,109.38 108.06,108.98 107.70,108.47 C107.33,107.96 107.18,107.27 107.22,106.66 Z" fill="url(#tg17)"/>
<ellipse cx="111.73" cy="105.20" rx="0.61" ry="0.74" fill="#efc2b0" opacity="0.45"/>
<ellipse cx="111.71" cy="108.32" rx="0.65" ry="1.10" fill="#8c493a" opacity="0.55"/>
<ellipse cx="111.03" cy="105.71" rx="0.56" ry="0.51" fill="#efc2b0" opacity="0.45"/>
<path d="M138.86,108.35 C138.78,109.04 138.21,109.84 137.56,110.39 C136.91,110.94 135.91,111.46 134.95,111.66 C134.00,111.86 132.87,111.73 131.83,111.59 C130.80,111.44 129.39,111.28 128.76,110.77 C128.13,110.26 128.27,109.29 128.07,108.53 C127.86,107.77 127.21,106.89 127.52,106.23 C127.83,105.56 129.01,104.95 129.93,104.56 C130.84,104.17 131.96,103.92 133.02,103.87 C134.08,103.82 135.47,103.88 136.30,104.27 C137.14,104.66 137.61,105.54 138.04,106.22 C138.47,106.90 138.94,107.65 138.86,108.35 Z" fill="#8f9697" opacity="0.5"/>
<radialGradient id="tg18" cx="0.42" cy="0.38" r="0.65"><stop offset="0" stop-color="#c8755a"/><stop offset="0.5" stop-color="#c8755a"/><stop offset="1" stop-color="#8c4735"/></radialGradient>
<path d="M135.40,109.35 C134.67,109.70 133.61,109.81 132.69,109.86 C131.77,109.91 130.75,109.90 129.90,109.66 C129.04,109.42 128.05,108.95 127.56,108.40 C127.08,107.85 126.87,107.02 126.98,106.38 C127.09,105.74 127.66,105.10 128.23,104.57 C128.79,104.04 129.52,103.38 130.37,103.18 C131.21,102.98 132.31,103.25 133.29,103.37 C134.27,103.48 135.61,103.45 136.25,103.86 C136.89,104.28 137.00,105.20 137.13,105.85 C137.26,106.50 137.33,107.18 137.04,107.76 C136.75,108.35 136.12,109.00 135.40,109.35 Z" fill="url(#tg18)"/>
<ellipse cx="133.68" cy="108.07" rx="1.11" ry="0.44" fill="#efc2b0" opacity="0.45"/>
<ellipse cx="131.16" cy="107.09" rx="1.96" ry="0.54" fill="#8c4735" opacity="0.55"/>
<ellipse cx="129.48" cy="106.73" rx="0.53" ry="0.72" fill="#efc2b0" opacity="0.45"/>
<ellipse cx="132.30" cy="106.50" rx="1.85" ry="0.64" fill="#8c4735" opacity="0.55"/>
<path d="M159.63,109.54 C159.07,108.95 158.55,108.09 158.50,107.34 C158.44,106.60 158.87,105.73 159.30,105.08 C159.72,104.43 160.35,103.96 161.05,103.46 C161.75,102.96 162.65,102.13 163.52,102.07 C164.38,102.01 165.50,102.59 166.26,103.11 C167.02,103.62 167.78,104.40 168.05,105.16 C168.31,105.91 168.08,106.89 167.86,107.66 C167.63,108.42 167.25,109.17 166.70,109.76 C166.14,110.36 165.32,111.03 164.50,111.21 C163.69,111.39 162.63,111.13 161.81,110.85 C161.00,110.57 160.18,110.12 159.63,109.54 Z" fill="#8f9697" opacity="0.5"/>
<radialGradient id="tg19" cx="0.42" cy="0.38" r="0.65"><stop offset="0" stop-color="#d5947a"/><stop offset="0.5" stop-color="#d5947a"/><stop offset="1" stop-color="#9b5d4a"/></radialGradient>
<path d="M157.65,106.65 C157.50,105.93 157.92,105.02 158.26,104.35 C158.60,103.67 159.08,103.09 159.69,102.57 C160.30,102.05 161.11,101.34 161.91,101.24 C162.71,101.13 163.82,101.53 164.49,101.96 C165.16,102.38 165.54,103.13 165.93,103.77 C166.31,104.40 166.77,105.07 166.81,105.77 C166.85,106.47 166.67,107.44 166.19,107.97 C165.71,108.51 164.71,108.74 163.94,108.98 C163.18,109.22 162.39,109.47 161.60,109.41 C160.80,109.35 159.85,109.08 159.19,108.62 C158.53,108.16 157.81,107.36 157.65,106.65 Z" fill="url(#tg19)"/>
<ellipse cx="163.62" cy="104.35" rx="0.82" ry="0.68" fill="#efc2b0" opacity="0.45"/>
<ellipse cx="163.06" cy="104.71" rx="0.59" ry="0.64" fill="#efc2b0" opacity="0.45"/>
<ellipse cx="163.10" cy="107.01" rx="0.89" ry="0.71" fill="#9b5d4a" opacity="0.55"/>
<ellipse cx="161.45" cy="105.78" rx="1.99" ry="1.18" fill="#9b5d4a" opacity="0.55"/>
<rect x="24" y="123.8" width="175" height="5.3" fill="#9da0a0"/>
<rect x="24" y="129.1" width="175" height="9.4" fill="#c7c7c3"/>
<rect x="24.55" y="124.6" width="0.9" height="6.2" fill="#6e7070"/>
<rect x="24.05" y="131.4" width="1.9" height="2.9" fill="#666"/>
<rect x="29.51" y="125.4" width="0.7" height="3.8" fill="#7a7c7c"/>
<rect x="34.27" y="124.6" width="0.9" height="6.2" fill="#6e7070"/>
<rect x="33.77" y="131.4" width="1.9" height="2.9" fill="#666"/>
<rect x="33.77" y="134.7" width="1.9" height="2.6" fill="#6e6e6e"/>
<rect x="39.23" y="125.4" width="0.7" height="3.8" fill="#7a7c7c"/>
<rect x="43.99" y="124.6" width="0.9" height="6.2" fill="#6e7070"/>
<rect x="43.49" y="131.4" width="1.9" height="2.9" fill="#666"/>
<rect x="48.95" y="125.4" width="0.7" height="3.8" fill="#7a7c7c"/>
<rect x="53.71" y="124.6" width="0.9" height="6.2" fill="#6e7070"/>
<rect x="53.21" y="131.4" width="1.9" height="2.9" fill="#666"/>
<rect x="53.21" y="134.7" width="1.9" height="2.6" fill="#6e6e6e"/>
<rect x="58.67" y="125.4" width="0.7" height="3.8" fill="#7a7c7c"/>
<rect x="63.43" y="124.6" width="0.9" height="6.2" fill="#6e7070"/>
<rect x="62.93" y="131.4" width="1.9" height="2.9" fill="#666"/>
<rect x="68.39" y="125.4" width="0.7" height="3.8" fill="#7a7c7c"/>
<rect x="73.15" y="124.6" width="0.9" height="6.2" fill="#6e7070"/>
<rect x="72.65" y="131.4" width="1.9" height="2.9" fill="#666"/>
<rect x="72.65" y="134.7" width="1.9" height="2.6" fill="#6e6e6e"/>
<rect x="78.11" y="125.4" width="0.7" height="3.8" fill="#7a7c7c"/>
<rect x="82.87" y="124.6" width="0.9" height="6.2" fill="#6e7070"/>
<rect x="82.37" y="131.4" width="1.9" height="2.9" fill="#666"/>
<rect x="87.83" y="125.4" width="0.7" height="3.8" fill="#7a7c7c"/>
<rect x="92.59" y="124.6" width="0.9" height="6.2" fill="#6e7070"/>
<rect x="92.09" y="131.4" width="1.9" height="2.9" fill="#666"/>
<rect x="92.09" y="134.7" width="1.9" height="2.6" fill="#6e6e6e"/>
<rect x="97.55" y="125.4" width="0.7" height="3.8" fill="#7a7c7c"/>
<rect x="102.31" y="124.6" width="0.9" height="6.2" fill="#6e7070"/>
<rect x="101.81" y="131.4" width="1.9" height="2.9" fill="#666"/>
<rect x="107.27" y="125.4" width="0.7" height="3.8" fill="#7a7c7c"/>
<rect x="112.03" y="124.6" width="0.9" height="6.2" fill="#6e7070"/>
<rect x="111.53" y="131.4" width="1.9" height="2.9" fill="#666"/>
<rect x="111.53" y="134.7" width="1.9" height="2.6" fill="#6e6e6e"/>
<rect x="116.99" y="125.4" width="0.7" height="3.8" fill="#7a7c7c"/>
<rect x="121.75" y="124.6" width="0.9" height="6.2" fill="#6e7070"/>
<rect x="121.25" y="131.4" width="1.9" height="2.9" fill="#666"/>
<rect x="126.71" y="125.4" width="0.7" height="3.8" fill="#7a7c7c"/>
<rect x="131.47" y="124.6" width="0.9" height="6.2" fill="#6e7070"/>
<rect x="130.97" y="131.4" width="1.9" height="2.9" fill="#666"/>
<rect x="130.97" y="134.7" width="1.9" height="2.6" fill="#6e6e6e"/>
<rect x="136.43" y="125.4" width="0.7" height="3.8" fill="#7a7c7c"/>
<rect x="141.19" y="124.6" width="0.9" height="6.2" fill="#6e7070"/>
<rect x="140.69" y="131.4" width="1.9" height="2.9" fill="#666"/>
<rect x="146.15" y="125.4" width="0.7" height="3.8" fill="#7a7c7c"/>
<rect x="150.91" y="124.6" width="0.9" height="6.2" fill="#6e7070"/>
<rect x="150.41" y="131.4" width="1.9" height="2.9" fill="#666"/>
<rect x="150.41" y="134.7" width="1.9" height="2.6" fill="#6e6e6e"/>
<rect x="155.87" y="125.4" width="0.7" height="3.8" fill="#7a7c7c"/>
<rect x="160.63" y="124.6" width="0.9" height="6.2" fill="#6e7070"/>
<rect x="160.13" y="131.4" width="1.9" height="2.9" fill="#666"/>
<rect x="165.59" y="125.4" width="0.7" height="3.8" fill="#7a7c7c"/>
<rect x="170.35" y="124.6" width="0.9" height="6.2" fill="#6e7070"/>
<rect x="169.85" y="131.4" width="1.9" height="2.9" fill="#666"/>
<rect x="169.85" y="134.7" width="1.9" height="2.6" fill="#6e6e6e"/>
<rect x="175.31" y="125.4" width="0.7" height="3.8" fill="#7a7c7c"/>
<rect x="180.07" y="124.6" width="0.9" height="6.2" fill="#6e7070"/>
<rect x="179.57" y="131.4" width="1.9" height="2.9" fill="#666"/>
<rect x="185.03" y="125.4" width="0.7" height="3.8" fill="#7a7c7c"/>
<rect x="189.79" y="124.6" width="0.9" height="6.2" fill="#6e7070"/>
<rect x="189.29" y="131.4" width="1.9" height="2.9" fill="#666"/>
<rect x="189.29" y="134.7" width="1.9" height="2.6" fill="#6e6e6e"/>
<rect x="194.75" y="125.4" width="0.7" height="3.8" fill="#7a7c7c"/>
</g>
<text x="204.50" y="40.40" font-size="8.7" text-anchor="start" fill="#000" font-weight="normal"  style="">Normal diet</text>
<text x="204.50" y="64.25" font-size="8.7" text-anchor="start" fill="#000" font-weight="normal"  style="">FMD</text>
<text x="204.50" y="88.10" font-size="8.7" text-anchor="start" fill="#000" font-weight="normal"  style="">Rap 1mg/kg</text>
<text x="204.50" y="111.95" font-size="8.7" text-anchor="start" fill="#000" font-weight="normal"  style="">FMD + Rap 1mg/kg</text>
<text x="351.20" y="11.60" font-size="16" text-anchor="start" fill="#000" font-weight="bold"  style="">b</text>
<line x1="394.60" y1="33.40" x2="394.60" y2="134.50" stroke="#000" stroke-width="1" />
<line x1="394.10" y1="134.00" x2="544.70" y2="134.00" stroke="#000" stroke-width="1" />
<line x1="391.60" y1="134.00" x2="394.60" y2="134.00" stroke="#000" stroke-width="0.9" />
<text x="387.20" y="137.00" font-size="8.4" text-anchor="end" fill="#000" font-weight="normal"  style="">0</text>
<line x1="391.60" y1="108.90" x2="394.60" y2="108.90" stroke="#000" stroke-width="0.9" />
<text x="387.20" y="111.90" font-size="8.4" text-anchor="end" fill="#000" font-weight="normal"  style="">200</text>
<line x1="391.60" y1="83.80" x2="394.60" y2="83.80" stroke="#000" stroke-width="0.9" />
<text x="387.20" y="86.80" font-size="8.4" text-anchor="end" fill="#000" font-weight="normal"  style="">400</text>
<line x1="391.60" y1="58.70" x2="394.60" y2="58.70" stroke="#000" stroke-width="0.9" />
<text x="387.20" y="61.70" font-size="8.4" text-anchor="end" fill="#000" font-weight="normal"  style="">600</text>
<line x1="391.60" y1="33.60" x2="394.60" y2="33.60" stroke="#000" stroke-width="0.9" />
<text x="387.20" y="36.60" font-size="8.4" text-anchor="end" fill="#000" font-weight="normal"  style="">800</text>
<line x1="406.80" y1="134.00" x2="406.80" y2="137.00" stroke="#000" stroke-width="0.9" />
<text x="406.80" y="148.20" font-size="8.4" text-anchor="middle" fill="#000" font-weight="normal"  style="">9</text>
<line x1="431.94" y1="134.00" x2="431.94" y2="137.00" stroke="#000" stroke-width="0.9" />
<text x="431.94" y="148.20" font-size="8.4" text-anchor="middle" fill="#000" font-weight="normal"  style="">12</text>
<line x1="457.08" y1="134.00" x2="457.08" y2="137.00" stroke="#000" stroke-width="0.9" />
<text x="457.08" y="148.20" font-size="8.4" text-anchor="middle" fill="#000" font-weight="normal"  style="">15</text>
<line x1="482.22" y1="134.00" x2="482.22" y2="137.00" stroke="#000" stroke-width="0.9" />
<text x="482.22" y="148.20" font-size="8.4" text-anchor="middle" fill="#000" font-weight="normal"  style="">18</text>
<line x1="507.36" y1="134.00" x2="507.36" y2="137.00" stroke="#000" stroke-width="0.9" />
<text x="507.36" y="148.20" font-size="8.4" text-anchor="middle" fill="#000" font-weight="normal"  style="">21</text>
<line x1="532.50" y1="134.00" x2="532.50" y2="137.00" stroke="#000" stroke-width="0.9" />
<text x="532.50" y="148.20" font-size="8.4" text-anchor="middle" fill="#000" font-weight="normal"  style="">24</text>
<text x="469.50" y="162.30" font-size="8.7" text-anchor="middle" fill="#000" font-weight="normal"  style="">Days after inoculation</text>
<text transform="translate(364.2,84.5) rotate(-90)" font-size="8.9" text-anchor="middle">Tumor volume (mm<tspan font-size="5.8" dy="-3.4">3</tspan><tspan dy="3.4">)</tspan></text>
<path d="M406.80,126.72 L431.94,114.17 L457.08,104.51 L482.22,91.20 L507.36,82.55 L532.50,55.56" fill="none" stroke="#1818d8" stroke-width="1.1"/>
<line x1="406.80" y1="126.22" x2="406.80" y2="127.22" stroke="#1818d8" stroke-width="1.1" />
<line x1="404.80" y1="126.22" x2="408.80" y2="126.22" stroke="#1818d8" stroke-width="1.1" />
<line x1="404.80" y1="127.22" x2="408.80" y2="127.22" stroke="#1818d8" stroke-width="1.1" />
<circle cx="406.80" cy="126.72" r="2.30" fill="#1818d8"/>
<line x1="431.94" y1="110.66" x2="431.94" y2="117.69" stroke="#1818d8" stroke-width="1.1" />
<line x1="429.94" y1="110.66" x2="433.94" y2="110.66" stroke="#1818d8" stroke-width="1.1" />
<line x1="429.94" y1="117.69" x2="433.94" y2="117.69" stroke="#1818d8" stroke-width="1.1" />
<circle cx="431.94" cy="114.17" r="2.30" fill="#1818d8"/>
<line x1="457.08" y1="103.75" x2="457.08" y2="105.26" stroke="#1818d8" stroke-width="1.1" />
<line x1="455.08" y1="103.75" x2="459.08" y2="103.75" stroke="#1818d8" stroke-width="1.1" />
<line x1="455.08" y1="105.26" x2="459.08" y2="105.26" stroke="#1818d8" stroke-width="1.1" />
<circle cx="457.08" cy="104.51" r="2.30" fill="#1818d8"/>
<line x1="482.22" y1="89.70" x2="482.22" y2="92.71" stroke="#1818d8" stroke-width="1.1" />
<line x1="480.22" y1="89.70" x2="484.22" y2="89.70" stroke="#1818d8" stroke-width="1.1" />
<line x1="480.22" y1="92.71" x2="484.22" y2="92.71" stroke="#1818d8" stroke-width="1.1" />
<circle cx="482.22" cy="91.20" r="2.30" fill="#1818d8"/>
<line x1="507.36" y1="78.40" x2="507.36" y2="86.69" stroke="#1818d8" stroke-width="1.1" />
<line x1="505.36" y1="78.40" x2="509.36" y2="78.40" stroke="#1818d8" stroke-width="1.1" />
<line x1="505.36" y1="86.69" x2="509.36" y2="86.69" stroke="#1818d8" stroke-width="1.1" />
<circle cx="507.36" cy="82.55" r="2.30" fill="#1818d8"/>
<line x1="532.50" y1="51.80" x2="532.50" y2="59.33" stroke="#1818d8" stroke-width="1.1" />
<line x1="530.50" y1="51.80" x2="534.50" y2="51.80" stroke="#1818d8" stroke-width="1.1" />
<line x1="530.50" y1="59.33" x2="534.50" y2="59.33" stroke="#1818d8" stroke-width="1.1" />
<circle cx="532.50" cy="55.56" r="2.30" fill="#1818d8"/>
<path d="M406.80,127.10 L431.94,124.96 L457.08,115.43 L482.22,102.75 L507.36,98.99 L532.50,93.09" fill="none" stroke="#f01a1a" stroke-width="1.1"/>
<line x1="406.80" y1="126.47" x2="406.80" y2="127.72" stroke="#f01a1a" stroke-width="1.1" />
<line x1="404.80" y1="126.47" x2="408.80" y2="126.47" stroke="#f01a1a" stroke-width="1.1" />
<line x1="404.80" y1="127.72" x2="408.80" y2="127.72" stroke="#f01a1a" stroke-width="1.1" />
<rect x="404.50" y="124.80" width="4.60" height="4.60" fill="#f01a1a"/>
<line x1="431.94" y1="123.96" x2="431.94" y2="125.97" stroke="#f01a1a" stroke-width="1.1" />
<line x1="429.94" y1="123.96" x2="433.94" y2="123.96" stroke="#f01a1a" stroke-width="1.1" />
<line x1="429.94" y1="125.97" x2="433.94" y2="125.97" stroke="#f01a1a" stroke-width="1.1" />
<rect x="429.64" y="122.66" width="4.60" height="4.60" fill="#f01a1a"/>
<line x1="457.08" y1="112.66" x2="457.08" y2="118.19" stroke="#f01a1a" stroke-width="1.1" />
<line x1="455.08" y1="112.66" x2="459.08" y2="112.66" stroke="#f01a1a" stroke-width="1.1" />
<line x1="455.08" y1="118.19" x2="459.08" y2="118.19" stroke="#f01a1a" stroke-width="1.1" />
<rect x="454.78" y="113.13" width="4.60" height="4.60" fill="#f01a1a"/>
<line x1="482.22" y1="96.48" x2="482.22" y2="109.03" stroke="#f01a1a" stroke-width="1.1" />
<line x1="480.22" y1="96.48" x2="484.22" y2="96.48" stroke="#f01a1a" stroke-width="1.1" />
<line x1="480.22" y1="109.03" x2="484.22" y2="109.03" stroke="#f01a1a" stroke-width="1.1" />
<rect x="479.92" y="100.45" width="4.60" height="4.60" fill="#f01a1a"/>
<line x1="507.36" y1="91.46" x2="507.36" y2="106.52" stroke="#f01a1a" stroke-width="1.1" />
<line x1="505.36" y1="91.46" x2="509.36" y2="91.46" stroke="#f01a1a" stroke-width="1.1" />
<line x1="505.36" y1="106.52" x2="509.36" y2="106.52" stroke="#f01a1a" stroke-width="1.1" />
<rect x="505.06" y="96.69" width="4.60" height="4.60" fill="#f01a1a"/>
<line x1="532.50" y1="88.69" x2="532.50" y2="97.48" stroke="#f01a1a" stroke-width="1.1" />
<line x1="530.50" y1="88.69" x2="534.50" y2="88.69" stroke="#f01a1a" stroke-width="1.1" />
<line x1="530.50" y1="97.48" x2="534.50" y2="97.48" stroke="#f01a1a" stroke-width="1.1" />
<rect x="530.20" y="90.79" width="4.60" height="4.60" fill="#f01a1a"/>
<path d="M406.80,127.98 L431.94,126.22 L457.08,117.18 L482.22,109.15 L507.36,103.63 L532.50,95.85" fill="none" stroke="#128a12" stroke-width="1.1"/>
<line x1="406.80" y1="127.35" x2="406.80" y2="128.60" stroke="#128a12" stroke-width="1.1" />
<line x1="404.80" y1="127.35" x2="408.80" y2="127.35" stroke="#128a12" stroke-width="1.1" />
<line x1="404.80" y1="128.60" x2="408.80" y2="128.60" stroke="#128a12" stroke-width="1.1" />
<path d="M406.80,125.33 L409.33,129.82 L404.27,129.82Z" fill="#128a12"/>
<line x1="431.94" y1="125.47" x2="431.94" y2="126.97" stroke="#128a12" stroke-width="1.1" />
<line x1="429.94" y1="125.47" x2="433.94" y2="125.47" stroke="#128a12" stroke-width="1.1" />
<line x1="429.94" y1="126.97" x2="433.94" y2="126.97" stroke="#128a12" stroke-width="1.1" />
<path d="M431.94,123.57 L434.47,128.06 L429.41,128.06Z" fill="#128a12"/>
<line x1="457.08" y1="113.04" x2="457.08" y2="121.32" stroke="#128a12" stroke-width="1.1" />
<line x1="455.08" y1="113.04" x2="459.08" y2="113.04" stroke="#128a12" stroke-width="1.1" />
<line x1="455.08" y1="121.32" x2="459.08" y2="121.32" stroke="#128a12" stroke-width="1.1" />
<path d="M457.08,114.54 L459.61,119.02 L454.55,119.02Z" fill="#128a12"/>
<line x1="482.22" y1="104.13" x2="482.22" y2="114.17" stroke="#128a12" stroke-width="1.1" />
<line x1="480.22" y1="104.13" x2="484.22" y2="104.13" stroke="#128a12" stroke-width="1.1" />
<line x1="480.22" y1="114.17" x2="484.22" y2="114.17" stroke="#128a12" stroke-width="1.1" />
<path d="M482.22,106.51 L484.75,110.99 L479.69,110.99Z" fill="#128a12"/>
<line x1="507.36" y1="97.98" x2="507.36" y2="109.28" stroke="#128a12" stroke-width="1.1" />
<line x1="505.36" y1="97.98" x2="509.36" y2="97.98" stroke="#128a12" stroke-width="1.1" />
<line x1="505.36" y1="109.28" x2="509.36" y2="109.28" stroke="#128a12" stroke-width="1.1" />
<path d="M507.36,100.98 L509.89,105.47 L504.83,105.47Z" fill="#128a12"/>
<line x1="532.50" y1="93.09" x2="532.50" y2="98.61" stroke="#128a12" stroke-width="1.1" />
<line x1="530.50" y1="93.09" x2="534.50" y2="93.09" stroke="#128a12" stroke-width="1.1" />
<line x1="530.50" y1="98.61" x2="534.50" y2="98.61" stroke="#128a12" stroke-width="1.1" />
<path d="M532.50,93.20 L535.03,97.69 L529.97,97.69Z" fill="#128a12"/>
<path d="M406.80,128.35 L431.94,127.22 L457.08,125.97 L482.22,120.07 L507.36,115.43 L532.50,112.79" fill="none" stroke="#7d22b0" stroke-width="1.1"/>
<line x1="406.80" y1="127.72" x2="406.80" y2="128.98" stroke="#7d22b0" stroke-width="1.1" />
<line x1="404.80" y1="127.72" x2="408.80" y2="127.72" stroke="#7d22b0" stroke-width="1.1" />
<line x1="404.80" y1="128.98" x2="408.80" y2="128.98" stroke="#7d22b0" stroke-width="1.1" />
<path d="M406.80,131.00 L409.33,126.51 L404.27,126.51Z" fill="#7d22b0"/>
<line x1="431.94" y1="126.60" x2="431.94" y2="127.85" stroke="#7d22b0" stroke-width="1.1" />
<line x1="429.94" y1="126.60" x2="433.94" y2="126.60" stroke="#7d22b0" stroke-width="1.1" />
<line x1="429.94" y1="127.85" x2="433.94" y2="127.85" stroke="#7d22b0" stroke-width="1.1" />
<path d="M431.94,129.87 L434.47,125.38 L429.41,125.38Z" fill="#7d22b0"/>
<line x1="457.08" y1="123.46" x2="457.08" y2="128.48" stroke="#7d22b0" stroke-width="1.1" />
<line x1="455.08" y1="123.46" x2="459.08" y2="123.46" stroke="#7d22b0" stroke-width="1.1" />
<line x1="455.08" y1="128.48" x2="459.08" y2="128.48" stroke="#7d22b0" stroke-width="1.1" />
<path d="M457.08,128.61 L459.61,124.13 L454.55,124.13Z" fill="#7d22b0"/>
<line x1="482.22" y1="114.80" x2="482.22" y2="125.34" stroke="#7d22b0" stroke-width="1.1" />
<line x1="480.22" y1="114.80" x2="484.22" y2="114.80" stroke="#7d22b0" stroke-width="1.1" />
<line x1="480.22" y1="125.34" x2="484.22" y2="125.34" stroke="#7d22b0" stroke-width="1.1" />
<path d="M482.22,122.71 L484.75,118.23 L479.69,118.23Z" fill="#7d22b0"/>
<line x1="507.36" y1="111.79" x2="507.36" y2="119.07" stroke="#7d22b0" stroke-width="1.1" />
<line x1="505.36" y1="111.79" x2="509.36" y2="111.79" stroke="#7d22b0" stroke-width="1.1" />
<line x1="505.36" y1="119.07" x2="509.36" y2="119.07" stroke="#7d22b0" stroke-width="1.1" />
<path d="M507.36,118.07 L509.89,113.59 L504.83,113.59Z" fill="#7d22b0"/>
<line x1="532.50" y1="108.15" x2="532.50" y2="117.43" stroke="#7d22b0" stroke-width="1.1" />
<line x1="530.50" y1="108.15" x2="534.50" y2="108.15" stroke="#7d22b0" stroke-width="1.1" />
<line x1="530.50" y1="117.43" x2="534.50" y2="117.43" stroke="#7d22b0" stroke-width="1.1" />
<path d="M532.50,115.44 L535.03,110.95 L529.97,110.95Z" fill="#7d22b0"/>
<line x1="395.90" y1="8.50" x2="406.80" y2="8.50" stroke="#1818d8" stroke-width="1.1" />
<circle cx="401.50" cy="8.50" r="2.20" fill="#1818d8"/>
<text x="410.40" y="10.85" font-size="6.6" text-anchor="start" fill="#000" font-weight="normal"  style="">Normal diet</text>
<line x1="395.90" y1="19.95" x2="406.80" y2="19.95" stroke="#f01a1a" stroke-width="1.1" />
<rect x="399.30" y="17.75" width="4.40" height="4.40" fill="#f01a1a"/>
<text x="410.40" y="22.30" font-size="6.6" text-anchor="start" fill="#000" font-weight="normal"  style="">FMD</text>
<line x1="395.90" y1="31.40" x2="406.80" y2="31.40" stroke="#128a12" stroke-width="1.1" />
<path d="M401.50,28.87 L403.92,33.16 L399.08,33.16Z" fill="#128a12"/>
<text x="410.40" y="33.75" font-size="6.6" text-anchor="start" fill="#000" font-weight="normal"  style="">Rap 1mg/kg</text>
<line x1="395.90" y1="42.85" x2="406.80" y2="42.85" stroke="#7d22b0" stroke-width="1.1" />
<path d="M401.50,45.38 L403.92,41.09 L399.08,41.09Z" fill="#7d22b0"/>
<text x="410.40" y="45.20" font-size="6.6" text-anchor="start" fill="#000" font-weight="normal"  style="">FMD + Rap 1mg/kg</text>
<line x1="541.20" y1="49.30" x2="541.20" y2="112.30" stroke="#8c8c8c" stroke-width="1" />
<line x1="539.30" y1="49.30" x2="543.10" y2="49.30" stroke="#8c8c8c" stroke-width="1" />
<line x1="539.30" y1="92.00" x2="543.10" y2="92.00" stroke="#8c8c8c" stroke-width="1" />
<line x1="539.30" y1="112.30" x2="543.10" y2="112.30" stroke="#8c8c8c" stroke-width="1" />
<line x1="557.60" y1="49.30" x2="557.60" y2="111.50" stroke="#8c8c8c" stroke-width="1" />
<line x1="555.70" y1="49.30" x2="559.50" y2="49.30" stroke="#8c8c8c" stroke-width="1" />
<line x1="555.70" y1="111.50" x2="559.50" y2="111.50" stroke="#8c8c8c" stroke-width="1" />
<text x="538.20" y="46.60" font-size="6.5"><tspan font-style="italic">P</tspan> = 0.0008</text>
<text x="559.00" y="92.60" font-size="6.5"><tspan font-style="italic">P</tspan> = 0.0003</text>
<text x="539.00" y="122.60" font-size="6.5"><tspan font-style="italic">P</tspan> = 0.0133</text>
<path d="M544.00,66.50 L544.00,68.90 M545.04,67.10 L542.96,68.30 M545.04,68.30 L542.96,67.10 " stroke="#3a3a3a" stroke-width="0.7" fill="none"/>
<circle cx="544.00" cy="67.70" r="0.45" fill="#3a3a3a"/>
<path d="M547.30,66.50 L547.30,68.90 M548.34,67.10 L546.26,68.30 M548.34,68.30 L546.26,67.10 " stroke="#3a3a3a" stroke-width="0.7" fill="none"/>
<circle cx="547.30" cy="67.70" r="0.45" fill="#3a3a3a"/>
<path d="M550.60,66.50 L550.60,68.90 M551.64,67.10 L549.56,68.30 M551.64,68.30 L549.56,67.10 " stroke="#3a3a3a" stroke-width="0.7" fill="none"/>
<circle cx="550.60" cy="67.70" r="0.45" fill="#3a3a3a"/>
<path d="M562.00,81.60 L562.00,84.00 M563.04,82.20 L560.96,83.40 M563.04,83.40 L560.96,82.20 " stroke="#3a3a3a" stroke-width="0.7" fill="none"/>
<circle cx="562.00" cy="82.80" r="0.45" fill="#3a3a3a"/>
<path d="M565.40,81.60 L565.40,84.00 M566.44,82.20 L564.36,83.40 M566.44,83.40 L564.36,82.20 " stroke="#3a3a3a" stroke-width="0.7" fill="none"/>
<circle cx="565.40" cy="82.80" r="0.45" fill="#3a3a3a"/>
<path d="M568.80,81.60 L568.80,84.00 M569.84,82.20 L567.76,83.40 M569.84,83.40 L567.76,82.20 " stroke="#3a3a3a" stroke-width="0.7" fill="none"/>
<circle cx="568.80" cy="82.80" r="0.45" fill="#3a3a3a"/>
<path d="M545.30,104.80 L548.10,100.20 M546.70,104.80 L549.50,100.20 M545.40,103.10 L549.10,103.10 M545.90,101.70 L549.60,101.70" stroke="#333" stroke-width="0.7" fill="none"/>
<text x="-0.60" y="185.70" font-size="16" text-anchor="start" fill="#000" font-weight="bold"  style="">c</text>
<line x1="47.80" y1="197.30" x2="47.80" y2="295.30" stroke="#000" stroke-width="1" />
<line x1="47.30" y1="294.80" x2="193.90" y2="294.80" stroke="#000" stroke-width="1" />
<line x1="44.80" y1="294.80" x2="47.80" y2="294.80" stroke="#000" stroke-width="0.9" />
<text x="41.20" y="297.80" font-size="8.4" text-anchor="end" fill="#000" font-weight="normal"  style="">0</text>
<line x1="44.80" y1="271.64" x2="47.80" y2="271.64" stroke="#000" stroke-width="0.9" />
<text x="41.20" y="274.64" font-size="8.4" text-anchor="end" fill="#000" font-weight="normal"  style="">25</text>
<line x1="44.80" y1="248.48" x2="47.80" y2="248.48" stroke="#000" stroke-width="0.9" />
<text x="41.20" y="251.48" font-size="8.4" text-anchor="end" fill="#000" font-weight="normal"  style="">50</text>
<line x1="44.80" y1="225.31" x2="47.80" y2="225.31" stroke="#000" stroke-width="0.9" />
<text x="41.20" y="228.31" font-size="8.4" text-anchor="end" fill="#000" font-weight="normal"  style="">75</text>
<line x1="44.80" y1="202.15" x2="47.80" y2="202.15" stroke="#000" stroke-width="0.9" />
<text x="41.20" y="205.15" font-size="8.4" text-anchor="end" fill="#000" font-weight="normal"  style="">100</text>
<line x1="48.20" y1="294.80" x2="48.20" y2="297.80" stroke="#000" stroke-width="0.9" />
<text x="48.20" y="308.60" font-size="8.4" text-anchor="middle" fill="#000" font-weight="normal"  style="">0</text>
<line x1="63.80" y1="294.80" x2="63.80" y2="297.80" stroke="#000" stroke-width="0.9" />
<text x="63.80" y="308.60" font-size="8.4" text-anchor="middle" fill="#000" font-weight="normal"  style="">3</text>
<line x1="79.40" y1="294.80" x2="79.40" y2="297.80" stroke="#000" stroke-width="0.9" />
<text x="79.40" y="308.60" font-size="8.4" text-anchor="middle" fill="#000" font-weight="normal"  style="">6</text>
<line x1="95.00" y1="294.80" x2="95.00" y2="297.80" stroke="#000" stroke-width="0.9" />
<text x="95.00" y="308.60" font-size="8.4" text-anchor="middle" fill="#000" font-weight="normal"  style="">9</text>
<line x1="110.60" y1="294.80" x2="110.60" y2="297.80" stroke="#000" stroke-width="0.9" />
<text x="110.60" y="308.60" font-size="8.4" text-anchor="middle" fill="#000" font-weight="normal"  style="">12</text>
<line x1="126.20" y1="294.80" x2="126.20" y2="297.80" stroke="#000" stroke-width="0.9" />
<text x="126.20" y="308.60" font-size="8.4" text-anchor="middle" fill="#000" font-weight="normal"  style="">15</text>
<line x1="141.80" y1="294.80" x2="141.80" y2="297.80" stroke="#000" stroke-width="0.9" />
<text x="141.80" y="308.60" font-size="8.4" text-anchor="middle" fill="#000" font-weight="normal"  style="">18</text>
<line x1="157.40" y1="294.80" x2="157.40" y2="297.80" stroke="#000" stroke-width="0.9" />
<text x="157.40" y="308.60" font-size="8.4" text-anchor="middle" fill="#000" font-weight="normal"  style="">21</text>
<line x1="173.00" y1="294.80" x2="173.00" y2="297.80" stroke="#000" stroke-width="0.9" />
<text x="173.00" y="308.60" font-size="8.4" text-anchor="middle" fill="#000" font-weight="normal"  style="">24</text>
<line x1="188.60" y1="294.80" x2="188.60" y2="297.80" stroke="#000" stroke-width="0.9" />
<text x="188.60" y="308.60" font-size="8.4" text-anchor="middle" fill="#000" font-weight="normal"  style="">27</text>
<text x="118.60" y="323.00" font-size="8.7" text-anchor="middle" fill="#000" font-weight="normal"  style="">Days after inoculation</text>
<text x="122.00" y="195.70" font-size="8.7" text-anchor="middle" fill="#000" font-weight="normal"  style="">Survival</text>
<text transform="translate(20.6,248) rotate(-90)" font-size="8.6" text-anchor="middle">% survival</text>
<path d="M105.40,202.15 H105.40 V220.68 H110.60 V276.27 H183.40 V276.27" fill="none" stroke="#2020ff" stroke-width="1.1"/>
<circle cx="105.40" cy="220.68" r="2.30" fill="#2020ff"/>
<circle cx="110.60" cy="276.27" r="2.30" fill="#2020ff"/>
<circle cx="183.40" cy="276.27" r="2.30" fill="#2020ff"/>
<path d="M131.40,202.15 H131.40 V220.68 H141.80 V229.94 H147.00 V239.21 H183.40 V239.21" fill="none" stroke="#ff1414" stroke-width="1.1"/>
<rect x="129.10" y="218.38" width="4.60" height="4.60" fill="#ff1414"/>
<rect x="139.50" y="227.64" width="4.60" height="4.60" fill="#ff1414"/>
<rect x="144.70" y="236.91" width="4.60" height="4.60" fill="#ff1414"/>
<rect x="181.10" y="236.91" width="4.60" height="4.60" fill="#ff1414"/>
<path d="M131.40,202.15 H131.40 V213.73 H141.80 V225.31 H147.00 V236.89 H162.60 V248.48 H183.40 V248.48" fill="none" stroke="#22c022" stroke-width="1.1"/>
<path d="M131.40,211.09 L133.93,215.57 L128.87,215.57Z" fill="#22c022"/>
<path d="M141.80,222.67 L144.33,227.15 L139.27,227.15Z" fill="#22c022"/>
<path d="M147.00,234.25 L149.53,238.73 L144.47,238.73Z" fill="#22c022"/>
<path d="M162.60,245.83 L165.13,250.32 L160.07,250.32Z" fill="#22c022"/>
<path d="M183.40,245.83 L185.93,250.32 L180.87,250.32Z" fill="#22c022"/>
<path d="M48.20,202.15 H167.80 V211.42 H183.40 V211.42" fill="none" stroke="#7a24aa" stroke-width="1.1"/>
<path d="M167.80,214.06 L170.33,209.58 L165.27,209.58Z" fill="#7a24aa"/>
<path d="M183.40,214.06 L185.93,209.58 L180.87,209.58Z" fill="#7a24aa"/>
<line x1="193.90" y1="203.90" x2="203.60" y2="203.90" stroke="#2020ff" stroke-width="1.1" />
<circle cx="198.80" cy="203.90" r="2.10" fill="#2020ff"/>
<text x="208.00" y="206.25" font-size="6.6" text-anchor="start" fill="#000" font-weight="normal"  style="">Normal diet</text>
<line x1="193.90" y1="215.07" x2="203.60" y2="215.07" stroke="#ff1414" stroke-width="1.1" />
<rect x="196.70" y="212.97" width="4.20" height="4.20" fill="#ff1414"/>
<text x="208.00" y="217.42" font-size="6.6" text-anchor="start" fill="#000" font-weight="normal"  style="">FMD</text>
<line x1="193.90" y1="226.24" x2="203.60" y2="226.24" stroke="#22c022" stroke-width="1.1" />
<path d="M198.80,223.83 L201.11,227.92 L196.49,227.92Z" fill="#22c022"/>
<text x="208.00" y="228.59" font-size="6.6" text-anchor="start" fill="#000" font-weight="normal"  style="">Rap 1mg/kg</text>
<line x1="193.90" y1="237.41" x2="203.60" y2="237.41" stroke="#7a24aa" stroke-width="1.1" />
<path d="M198.80,239.82 L201.11,235.73 L196.49,235.73Z" fill="#7a24aa"/>
<text x="208.00" y="239.76" font-size="6.6" text-anchor="start" fill="#000" font-weight="normal"  style="">FMD + Rap 1mg/kg</text>
<text x="351.20" y="185.70" font-size="16" text-anchor="start" fill="#000" font-weight="bold"  style="">d</text>
<line x1="393.60" y1="208.80" x2="393.60" y2="306.30" stroke="#000" stroke-width="1" />
<line x1="393.10" y1="305.80" x2="538.30" y2="305.80" stroke="#000" stroke-width="1" />
<line x1="390.00" y1="305.80" x2="393.60" y2="305.80" stroke="#000" stroke-width="0.9" />
<text x="386.00" y="308.80" font-size="8.4" text-anchor="end" fill="#000" font-weight="normal"  style="">0</text>
<line x1="390.00" y1="273.70" x2="393.60" y2="273.70" stroke="#000" stroke-width="0.9" />
<text x="386.00" y="276.70" font-size="8.4" text-anchor="end" fill="#000" font-weight="normal"  style="">1</text>
<line x1="390.00" y1="241.60" x2="393.60" y2="241.60" stroke="#000" stroke-width="0.9" />
<text x="386.00" y="244.60" font-size="8.4" text-anchor="end" fill="#000" font-weight="normal"  style="">2</text>
<line x1="390.00" y1="209.50" x2="393.60" y2="209.50" stroke="#000" stroke-width="0.9" />
<text x="386.00" y="212.50" font-size="8.4" text-anchor="end" fill="#000" font-weight="normal"  style="">3</text>
<text transform="translate(373.4,258.7) rotate(-90)" font-size="9.0" text-anchor="middle">Fdft/actin mRNA ratio</text>
<rect x="399.60" y="273.70" width="24.70" height="32.10" fill="#92bff5" stroke="#2424ff" stroke-width="1.3"/>
<line x1="411.95" y1="305.80" x2="411.95" y2="308.80" stroke="#000" stroke-width="0.9" />
<line x1="411.95" y1="270.49" x2="411.95" y2="276.91" stroke="#2424ff" stroke-width="1.3" />
<line x1="405.95" y1="270.49" x2="417.95" y2="270.49" stroke="#2424ff" stroke-width="1.3" />
<line x1="405.95" y1="276.91" x2="417.95" y2="276.91" stroke="#2424ff" stroke-width="1.3" />
<rect x="435.80" y="247.38" width="24.60" height="58.42" fill="#ff9d9d" stroke="#ff2424" stroke-width="1.3"/>
<line x1="448.10" y1="305.80" x2="448.10" y2="308.80" stroke="#000" stroke-width="0.9" />
<line x1="448.10" y1="241.92" x2="448.10" y2="252.84" stroke="#ff2424" stroke-width="1.3" />
<line x1="442.10" y1="241.92" x2="454.10" y2="241.92" stroke="#ff2424" stroke-width="1.3" />
<line x1="442.10" y1="252.84" x2="454.10" y2="252.84" stroke="#ff2424" stroke-width="1.3" />
<rect x="472.00" y="245.77" width="24.40" height="60.03" fill="#a4f7a0" stroke="#22b422" stroke-width="1.3"/>
<line x1="484.20" y1="305.80" x2="484.20" y2="308.80" stroke="#000" stroke-width="0.9" />
<line x1="484.20" y1="235.82" x2="484.20" y2="255.72" stroke="#22b422" stroke-width="1.3" />
<line x1="478.20" y1="235.82" x2="490.20" y2="235.82" stroke="#22b422" stroke-width="1.3" />
<line x1="478.20" y1="255.72" x2="490.20" y2="255.72" stroke="#22b422" stroke-width="1.3" />
<rect x="508.20" y="221.70" width="24.40" height="84.10" fill="#eec9f5" stroke="#a01ef0" stroke-width="1.3"/>
<line x1="520.40" y1="305.80" x2="520.40" y2="308.80" stroke="#000" stroke-width="0.9" />
<line x1="520.40" y1="212.39" x2="520.40" y2="231.01" stroke="#a01ef0" stroke-width="1.3" />
<line x1="514.40" y1="212.39" x2="526.40" y2="212.39" stroke="#a01ef0" stroke-width="1.3" />
<line x1="514.40" y1="231.01" x2="526.40" y2="231.01" stroke="#a01ef0" stroke-width="1.3" />
<circle cx="412.00" cy="269.30" r="1.90" fill="#2424ff"/>
<path d="M408.50,274.31 L410.59,278.02 L406.41,278.02Z" fill="#2424ff"/>
<path d="M415.50,274.31 L417.59,278.02 L413.41,278.02Z" fill="#2424ff"/>
<circle cx="445.50" cy="241.80" r="1.90" fill="#ff2424"/>
<circle cx="451.60" cy="247.40" r="1.90" fill="#ff2424"/>
<circle cx="447.50" cy="253.00" r="1.90" fill="#ff2424"/>
<path d="M484.10,234.04 L485.97,237.36 L482.23,237.36Z" fill="#22b422"/>
<path d="M484.10,243.04 L485.97,246.36 L482.23,246.36Z" fill="#22b422"/>
<path d="M484.10,252.04 L485.97,255.36 L482.23,255.36Z" fill="#22b422"/>
<path d="M517.30,216.67 L519.28,213.16 L515.32,213.16Z" fill="#a01ef0"/>
<path d="M523.80,217.67 L525.78,214.16 L521.82,214.16Z" fill="#a01ef0"/>
<path d="M520.30,232.57 L522.28,229.06 L518.32,229.06Z" fill="#a01ef0"/>
<line x1="447.60" y1="192.10" x2="521.50" y2="192.10" stroke="#3c3c3c" stroke-width="0.9" />
<line x1="447.60" y1="190.50" x2="447.60" y2="193.80" stroke="#3c3c3c" stroke-width="0.9" />
<line x1="521.50" y1="190.50" x2="521.50" y2="193.80" stroke="#3c3c3c" stroke-width="0.9" />
<line x1="481.40" y1="204.00" x2="520.40" y2="204.00" stroke="#3c3c3c" stroke-width="0.9" />
<line x1="481.40" y1="202.40" x2="481.40" y2="205.70" stroke="#3c3c3c" stroke-width="0.9" />
<line x1="520.40" y1="202.40" x2="520.40" y2="205.70" stroke="#3c3c3c" stroke-width="0.9" />
<path d="M477.70,188.60 L480.50,184.00 M479.10,188.60 L481.90,184.00 M477.80,186.90 L481.50,186.90 M478.30,185.50 L482.00,185.50" stroke="#333" stroke-width="0.7" fill="none"/>
<text x="487.60" y="188.90" font-size="6.5"><tspan font-style="italic">P</tspan> = 0.0133</text>
<path d="M498.30,200.80 L501.10,196.20 M499.70,200.80 L502.50,196.20 M498.40,199.10 L502.10,199.10 M498.90,197.70 L502.60,197.70" stroke="#333" stroke-width="0.7" fill="none"/>
<text x="507.30" y="200.40" font-size="6.5"><tspan font-style="italic">P</tspan> = 0.0351</text>
<path d="M517.60,209.50 L517.60,211.90 M518.64,210.10 L516.56,211.30 M518.64,211.30 L516.56,210.10 " stroke="#3a3a3a" stroke-width="0.7" fill="none"/>
<circle cx="517.60" cy="210.70" r="0.45" fill="#3a3a3a"/>
<path d="M520.60,209.50 L520.60,211.90 M521.64,210.10 L519.56,211.30 M521.64,211.30 L519.56,210.10 " stroke="#3a3a3a" stroke-width="0.7" fill="none"/>
<circle cx="520.60" cy="210.70" r="0.45" fill="#3a3a3a"/>
<path d="M523.60,209.50 L523.60,211.90 M524.64,210.10 L522.56,211.30 M524.64,211.30 L522.56,210.10 " stroke="#3a3a3a" stroke-width="0.7" fill="none"/>
<circle cx="523.60" cy="210.70" r="0.45" fill="#3a3a3a"/>
<text x="528.50" y="212.90" font-size="6.5"><tspan font-style="italic">P</tspan> = 0.0008</text>
<text x="432.00" y="233.40" font-size="6.5"><tspan font-style="italic">P</tspan> = 0.0025</text>
<path d="M445.50,235.80 L445.50,238.20 M446.54,236.40 L444.46,237.60 M446.54,237.60 L444.46,236.40 " stroke="#3a3a3a" stroke-width="0.7" fill="none"/>
<circle cx="445.50" cy="237.00" r="0.45" fill="#3a3a3a"/>
<path d="M449.30,235.80 L449.30,238.20 M450.34,236.40 L448.26,237.60 M450.34,237.60 L448.26,236.40 " stroke="#3a3a3a" stroke-width="0.7" fill="none"/>
<circle cx="449.30" cy="237.00" r="0.45" fill="#3a3a3a"/>
<text x="468.00" y="226.40" font-size="6.5"><tspan font-style="italic">P</tspan> = 0.0097</text>
<path d="M482.00,229.90 L482.00,232.30 M483.04,230.50 L480.96,231.70 M483.04,231.70 L480.96,230.50 " stroke="#3a3a3a" stroke-width="0.7" fill="none"/>
<circle cx="482.00" cy="231.10" r="0.45" fill="#3a3a3a"/>
<path d="M485.60,229.90 L485.60,232.30 M486.64,230.50 L484.56,231.70 M486.64,231.70 L484.56,230.50 " stroke="#3a3a3a" stroke-width="0.7" fill="none"/>
<circle cx="485.60" cy="231.10" r="0.45" fill="#3a3a3a"/>
<circle cx="568.00" cy="203.40" r="1.90" fill="#2424ff"/>
<text x="573.00" y="205.75" font-size="6.6" text-anchor="start" fill="#000" font-weight="normal"  style="">Normal diet</text>
<rect x="566.10" y="214.33" width="3.80" height="3.80" fill="#ff2424"/>
<text x="573.00" y="218.58" font-size="6.6" text-anchor="start" fill="#000" font-weight="normal"  style="">FMD</text>
<path d="M568.00,226.88 L570.09,230.58 L565.91,230.58Z" fill="#22b422"/>
<text x="573.00" y="231.41" font-size="6.6" text-anchor="start" fill="#000" font-weight="normal"  style="">Rap 1mg/kg</text>
<path d="M568.00,244.08 L570.09,240.37 L565.91,240.37Z" fill="#a01ef0"/>
<text x="573.00" y="244.24" font-size="6.6" text-anchor="start" fill="#000" font-weight="normal"  style="">FMD + Rap 1mg/kg</text>
<text x="-0.60" y="351.80" font-size="16" text-anchor="start" fill="#000" font-weight="bold"  style="">e</text>
<text transform="translate(63.60,424.00) rotate(-45)" font-size="8.9">Normal diet</text>
<text transform="translate(96.60,423.80) rotate(-45)" font-size="8.9">FMD</text>
<text transform="translate(125.30,423.30) rotate(-45)" font-size="8.9">Rap 1mg/kg</text>
<text transform="translate(156.40,423.00) rotate(-45)" font-size="8.9">FMD + Rap 1mg/kg</text>
<rect x="46.5" y="428.6" width="125.9" height="18" fill="#a3a3a3"/>
<rect x="46.5" y="449.6" width="125.9" height="18" fill="#969696"/>
<g filter="url(#bandblur)">
<rect x="51.38" y="436.21" width="23.23" height="2.18" rx="1.09" fill="#262626"/>
<ellipse cx="63.00" cy="437.30" rx="13.20" ry="1.09" fill="#262626"/>
<ellipse cx="63.00" cy="437.30" rx="10.03" ry="1.30" fill="#262626"/>
<rect x="83.17" y="436.26" width="23.06" height="2.69" rx="1.34" fill="#262626"/>
<ellipse cx="94.70" cy="437.60" rx="13.10" ry="1.34" fill="#262626"/>
<ellipse cx="94.70" cy="437.60" rx="9.96" ry="1.60" fill="#262626"/>
<rect x="114.40" y="436.14" width="23.41" height="2.52" rx="1.26" fill="#262626"/>
<ellipse cx="126.10" cy="437.40" rx="13.30" ry="1.26" fill="#262626"/>
<ellipse cx="126.10" cy="437.40" rx="10.11" ry="1.50" fill="#262626"/>
<rect x="145.39" y="435.40" width="23.32" height="3.19" rx="1.60" fill="#262626"/>
<ellipse cx="157.05" cy="437.00" rx="13.25" ry="1.60" fill="#262626"/>
<ellipse cx="157.05" cy="437.00" rx="10.07" ry="1.90" fill="#262626"/>
<rect x="51.24" y="457.62" width="24.11" height="4.37" rx="2.18" fill="#050505"/>
<ellipse cx="63.30" cy="459.80" rx="13.70" ry="2.18" fill="#050505"/>
<ellipse cx="63.30" cy="459.80" rx="10.41" ry="2.60" fill="#050505"/>
<rect x="83.18" y="457.58" width="23.23" height="4.03" rx="2.02" fill="#050505"/>
<ellipse cx="94.80" cy="459.60" rx="13.20" ry="2.02" fill="#050505"/>
<ellipse cx="94.80" cy="459.60" rx="10.03" ry="2.40" fill="#050505"/>
<rect x="114.23" y="457.18" width="23.94" height="4.03" rx="2.02" fill="#050505"/>
<ellipse cx="126.20" cy="459.20" rx="13.60" ry="2.02" fill="#050505"/>
<ellipse cx="126.20" cy="459.20" rx="10.34" ry="2.40" fill="#050505"/>
<rect x="145.22" y="456.93" width="23.76" height="4.54" rx="2.27" fill="#050505"/>
<ellipse cx="157.10" cy="459.20" rx="13.50" ry="2.27" fill="#050505"/>
<ellipse cx="157.10" cy="459.20" rx="10.26" ry="2.70" fill="#050505"/>
</g>
<text x="41.30" y="440.30" font-size="8.6" text-anchor="end" fill="#000" font-weight="normal"  style="">FDFT1</text>
<text x="41.30" y="462.40" font-size="8.6" text-anchor="end" fill="#000" font-weight="normal"  style="">Vinculin</text>
<text x="177.30" y="440.30" font-size="8.8" text-anchor="start" fill="#000" font-weight="normal"  style="">48 kDa</text>
<text x="177.30" y="462.40" font-size="8.8" text-anchor="start" fill="#000" font-weight="normal"  style="">124 kDa</text>
<text x="243.20" y="351.70" font-size="16" text-anchor="start" fill="#000" font-weight="bold"  style="">f</text>
<line x1="273.20" y1="376.60" x2="273.20" y2="470.70" stroke="#000" stroke-width="1" />
<line x1="272.70" y1="470.20" x2="406.40" y2="470.20" stroke="#000" stroke-width="1" />
<line x1="270.60" y1="470.20" x2="273.20" y2="470.20" stroke="#000" stroke-width="0.9" />
<text x="266.80" y="472.70" font-size="7.1" text-anchor="end" fill="#000" font-weight="normal"  style="">0</text>
<line x1="270.60" y1="451.68" x2="273.20" y2="451.68" stroke="#000" stroke-width="0.9" />
<text x="266.80" y="454.18" font-size="7.1" text-anchor="end" fill="#000" font-weight="normal"  style="">20</text>
<line x1="270.60" y1="433.16" x2="273.20" y2="433.16" stroke="#000" stroke-width="0.9" />
<text x="266.80" y="435.66" font-size="7.1" text-anchor="end" fill="#000" font-weight="normal"  style="">40</text>
<line x1="270.60" y1="414.64" x2="273.20" y2="414.64" stroke="#000" stroke-width="0.9" />
<text x="266.80" y="417.14" font-size="7.1" text-anchor="end" fill="#000" font-weight="normal"  style="">60</text>
<line x1="270.60" y1="396.12" x2="273.20" y2="396.12" stroke="#000" stroke-width="0.9" />
<text x="266.80" y="398.62" font-size="7.1" text-anchor="end" fill="#000" font-weight="normal"  style="">80</text>
<line x1="270.60" y1="377.60" x2="273.20" y2="377.60" stroke="#000" stroke-width="0.9" />
<text x="266.80" y="380.10" font-size="7.1" text-anchor="end" fill="#000" font-weight="normal"  style="">100</text>
<line x1="273.20" y1="470.20" x2="273.20" y2="472.80" stroke="#000" stroke-width="0.9" />
<text x="273.20" y="482.60" font-size="7.1" text-anchor="middle" fill="#000" font-weight="normal"  style="">0</text>
<line x1="317.60" y1="470.20" x2="317.60" y2="472.80" stroke="#000" stroke-width="0.9" />
<text x="317.60" y="482.60" font-size="7.1" text-anchor="middle" fill="#000" font-weight="normal"  style="">1000</text>
<line x1="362.00" y1="470.20" x2="362.00" y2="472.80" stroke="#000" stroke-width="0.9" />
<text x="362.00" y="482.60" font-size="7.1" text-anchor="middle" fill="#000" font-weight="normal"  style="">2000</text>
<line x1="406.40" y1="470.20" x2="406.40" y2="472.80" stroke="#000" stroke-width="0.9" />
<text x="406.40" y="482.60" font-size="7.1" text-anchor="middle" fill="#000" font-weight="normal"  style="">3000</text>
<text x="339.80" y="495.50" font-size="7.1" text-anchor="middle" fill="#000" font-weight="normal"  style="">Days</text>
<text transform="translate(250.20,423.90) rotate(-90)" font-size="7.45" text-anchor="middle">Overall survival rate(%)</text>
<path d="M273.07,377.56 H276.81 V380.01 H280.22 V381.85 H283.04 V382.80 H285.67 V383.60 H287.60 V385.74 H290.44 V387.98 H291.61 V388.71 H293.93 V389.22 H295.95 V390.13 H300.66 V392.07 H304.21 V393.22 H306.79 V394.52 H310.22 V395.31 H312.65 V396.12 H316.08 V396.58 H317.94 V396.93 H321.09 V397.59 H324.62 V398.88 H327.83 V400.67 H329.72 V401.11 H331.31 V402.70 H333.52 V406.11 H336.42 V407.88 H339.49 V410.87 H342.70 V411.63 H345.96 V412.66 H347.66 V413.33 H350.68 V414.18 H353.79 V415.98 H356.86 V422.12 H358.90 V425.18 H361.97 V429.27 H406.52" fill="none" stroke="#ff7f40" stroke-width="1.5" stroke-linejoin="miter"/>
<path d="M287.23,386.04 v-2.0 M311.55,396.42 v-2.0 M320.29,397.89 v-2.0 M324.03,399.18 v-2.0 M330.72,403.00 v-2.0 M335.73,408.18 v-2.0 M341.56,411.93 v-2.0 M344.82,412.96 v-2.0 M347.57,413.63 v-2.0 M352.60,416.28 v-2.0 M358.02,425.48 v-2.0 M363.82,429.57 v-2.0 M367.54,429.57 v-2.0 M371.25,429.57 v-2.0 M374.96,429.57 v-2.0 M378.68,429.57 v-2.0 M382.39,429.57 v-2.0 M386.10,429.57 v-2.0 M389.81,429.57 v-2.0 M393.53,429.57 v-2.0 M397.24,429.57 v-2.0 M400.95,429.57 v-2.0 M404.67,429.57 v-2.0" stroke="#ff7f40" stroke-width="0.8" fill="none"/>
<path d="M273.07,377.56 H277.63 V378.86 H279.44 V379.93 H282.26 V381.24 H284.99 V382.78 H288.42 V384.63 H290.44 V386.35 H292.07 V387.10 H294.65 V388.16 H297.28 V389.66 H300.66 V390.44 H302.20 V391.01 H304.50 V391.54 H308.15 V392.17 H310.87 V392.48 H313.39 V392.97 H315.46 V393.63 H316.66 V393.77 H321.09 V394.12 H324.16 V394.52 H328.07 V396.94 H331.31 V398.61 H332.85 V399.73 H337.44 V401.68 H339.64 V401.96 H342.16 V402.22 H343.26 V402.34 H346.40 V402.74 H350.59 V403.19 H353.79 V403.72 H357.88 V404.74 H364.01 H366.06 V406.79 H368.10 V409.85 H376.27 H379.85 V410.66 H382.41 V410.87 H384.45 V413.94 H386.49 V418.03 H397.73 H398.76 V420.68 H400.98 V420.87 H402.62 V420.92 H406.52 V421.09" fill="none" stroke="#22c822" stroke-width="1.5" stroke-linejoin="miter"/>
<path d="M277.25,379.16 v-2.0 M293.85,388.46 v-2.0 M299.38,390.74 v-2.0 M303.47,391.84 v-2.0 M310.45,392.78 v-2.0 M315.19,393.93 v-2.0 M316.18,394.07 v-2.0 M330.25,398.91 v-2.0 M336.74,401.98 v-2.0 M340.79,402.52 v-2.0 M342.40,402.64 v-2.0 M346.31,403.04 v-2.0 M349.92,403.49 v-2.0 M353.09,404.02 v-2.0 M356.42,405.04 v-2.0 M360.95,405.04 v-2.0 M365.00,407.09 v-2.0 M370.14,410.15 v-2.0 M374.23,410.15 v-2.0 M385.65,418.33 v-2.0 M388.37,418.33 v-2.0 M392.11,418.33 v-2.0 M395.86,418.33 v-2.0 M400.77,421.17 v-2.0 M401.52,421.22 v-2.0 M406.46,421.39 v-2.0" stroke="#22c822" stroke-width="0.8" fill="none"/>
<path d="M273.07,377.56 H275.94 V379.09 H280.27 V380.26 H282.26 V381.24 H284.28 V381.65 H286.57 V382.66 H290.44 V384.31 H291.58 V386.26 H295.32 V387.07 H296.77 V387.50 H300.66 V387.98 H302.35 V388.50 H303.89 V388.92 H306.19 V389.24 H310.87 V389.42 H312.99 V389.58 H317.01 V390.44 H321.31 V390.80 H323.14 V391.46 H324.16 V393.50 H327.54 V395.94 H331.31 V396.57 H334.95 V398.64 H337.44 V400.25 H340.51 V401.68 H345.69 V401.93 H347.66 V402.29 H351.73 V403.00 H353.79 V403.72 H355.84 V405.15 H358.90 V408.83 H362.28 V409.95 H366.06 V411.90 H369.27 V412.83 H372.19 V413.94 H374.14 V414.10 H376.92 V414.19 H380.95 V414.46 H383.43 V414.55 H384.45 V419.05 H397.73 H398.76 V423.55 H406.52 H406.52 V428.25" fill="none" stroke="#ff1e1e" stroke-width="1.5" stroke-linejoin="miter"/>
<path d="M279.43,380.56 v-2.0 M280.87,381.54 v-2.0 M283.42,381.95 v-2.0 M289.25,384.61 v-2.0 M290.45,386.56 v-2.0 M295.13,387.37 v-2.0 M301.39,388.80 v-2.0 M310.81,389.72 v-2.0 M326.87,396.24 v-2.0 M344.27,402.23 v-2.0 M350.58,403.30 v-2.0 M360.87,410.25 v-2.0 M369.15,413.13 v-2.0 M376.90,414.49 v-2.0 M380.77,414.76 v-2.0 M382.33,414.85 v-2.0 M386.66,419.35 v-2.0 M391.09,419.35 v-2.0 M395.52,419.35 v-2.0 M400.70,423.85 v-2.0 M404.58,423.85 v-2.0 M405.23,428.55 v-2.0" stroke="#ff1e1e" stroke-width="0.8" fill="none"/>
<path d="M273.07,377.56 H276.55 V381.06 H280.22 V382.26 H284.50 V384.78 H286.35 V386.35 H290.44 V389.42 H293.39 V390.51 H296.10 V391.30 H299.77 V391.72 H300.66 V392.48 H302.21 V393.39 H304.92 V393.85 H308.10 V394.97 H310.87 V395.55 H313.18 V396.23 H315.13 V396.93 H317.50 V398.14 H321.09 V398.61 H323.42 V399.60 H327.22 V401.68 H330.66 V402.80 H332.75 V404.03 H335.40 V405.77 H339.30 V407.02 H340.51 V411.90 H343.96 V412.22 H347.66 V413.94 H351.56 V414.67 H353.79 V416.60 H357.88 V419.05 H361.41 V420.25 H364.01 V422.12 H365.36 V422.69 H368.59 V423.04 H371.09 V423.32 H374.23 V423.55 H378.11 V424.12 H379.48 V424.32 H382.41 V424.77 H384.58 V426.75 H388.54 V427.22 H391.06 V427.51 H393.42 V427.62 H396.72 V427.81 H399.30 V428.00 H400.80 V428.25 H403.60 V429.71 H406.52 V430.29" fill="none" stroke="#1e1e96" stroke-width="1.5" stroke-linejoin="miter"/>
<path d="M275.31,381.36 v-2.0 M279.66,382.56 v-2.0 M283.12,385.08 v-2.0 M292.41,390.81 v-2.0 M300.07,392.78 v-2.0 M303.47,394.15 v-2.0 M306.93,395.27 v-2.0 M310.01,395.85 v-2.0 M312.40,396.53 v-2.0 M316.36,398.44 v-2.0 M323.04,399.90 v-2.0 M329.50,403.10 v-2.0 M338.38,407.32 v-2.0 M339.67,412.20 v-2.0 M350.99,414.97 v-2.0 M356.60,419.35 v-2.0 M360.52,420.55 v-2.0 M367.52,423.34 v-2.0 M377.92,424.42 v-2.0 M379.35,424.62 v-2.0 M390.11,427.81 v-2.0 M392.37,427.92 v-2.0 M396.19,428.11 v-2.0" stroke="#1e1e96" stroke-width="0.8" fill="none"/>
<line x1="314.70" y1="354.60" x2="323.80" y2="354.60" stroke="#ff1e1e" stroke-width="1.1" />
<line x1="319.25" y1="354.60" x2="319.25" y2="352.30" stroke="#ff1e1e" stroke-width="1.0" />
<text x="326.90" y="356.90" font-size="7.37" text-anchor="start" fill="#000" font-weight="normal"  style="">FDFT1 high and AKT1 low</text>
<line x1="314.70" y1="365.40" x2="323.80" y2="365.40" stroke="#1e1e96" stroke-width="1.1" />
<line x1="319.25" y1="365.40" x2="319.25" y2="363.10" stroke="#1e1e96" stroke-width="1.0" />
<text x="326.90" y="367.70" font-size="7.37" text-anchor="start" fill="#000" font-weight="normal"  style="">FDFT1 low and AKT1 high</text>
<line x1="314.70" y1="376.40" x2="323.80" y2="376.40" stroke="#22c822" stroke-width="1.1" />
<line x1="319.25" y1="376.40" x2="319.25" y2="374.10" stroke="#22c822" stroke-width="1.0" />
<text x="326.90" y="378.70" font-size="7.37" text-anchor="start" fill="#000" font-weight="normal"  style="">FDFT1 high and AKT1 high</text>
<line x1="314.70" y1="386.90" x2="323.80" y2="386.90" stroke="#ff7f40" stroke-width="1.1" />
<line x1="319.25" y1="386.90" x2="319.25" y2="384.60" stroke="#ff7f40" stroke-width="1.0" />
<text x="326.90" y="389.20" font-size="7.37" text-anchor="start" fill="#000" font-weight="normal"  style="">FDFT1 low and AKT1 low</text>
<path d="M417.70,354.90 H420.60 V364.40 H417.70" fill="none" stroke="#666" stroke-width="0.85"/>
<text x="423.00" y="362.00" font-size="6.6"><tspan font-style="italic">P</tspan> = 0.0189</text>
<path d="M418.60,376.50 H421.50 V385.60 H418.60" fill="none" stroke="#666" stroke-width="0.85"/>
<text x="424.20" y="383.50" font-size="6.6"><tspan font-style="italic">P</tspan> = 0.05</text>
<text x="474.20" y="351.30" font-size="16" text-anchor="start" fill="#000" font-weight="bold"  style="">g</text>
<line x1="506.20" y1="387.00" x2="506.20" y2="478.60" stroke="#000" stroke-width="1" />
<line x1="505.70" y1="478.10" x2="628.40" y2="478.10" stroke="#000" stroke-width="1" />
<line x1="503.60" y1="478.10" x2="506.20" y2="478.10" stroke="#000" stroke-width="0.9" />
<text x="499.80" y="480.60" font-size="7.1" text-anchor="end" fill="#000" font-weight="normal"  style="">0</text>
<line x1="503.60" y1="460.08" x2="506.20" y2="460.08" stroke="#000" stroke-width="0.9" />
<text x="499.80" y="462.58" font-size="7.1" text-anchor="end" fill="#000" font-weight="normal"  style="">20</text>
<line x1="503.60" y1="442.06" x2="506.20" y2="442.06" stroke="#000" stroke-width="0.9" />
<text x="499.80" y="444.56" font-size="7.1" text-anchor="end" fill="#000" font-weight="normal"  style="">40</text>
<line x1="503.60" y1="424.04" x2="506.20" y2="424.04" stroke="#000" stroke-width="0.9" />
<text x="499.80" y="426.54" font-size="7.1" text-anchor="end" fill="#000" font-weight="normal"  style="">60</text>
<line x1="503.60" y1="406.02" x2="506.20" y2="406.02" stroke="#000" stroke-width="0.9" />
<text x="499.80" y="408.52" font-size="7.1" text-anchor="end" fill="#000" font-weight="normal"  style="">80</text>
<line x1="503.60" y1="388.00" x2="506.20" y2="388.00" stroke="#000" stroke-width="0.9" />
<text x="499.80" y="390.50" font-size="7.1" text-anchor="end" fill="#000" font-weight="normal"  style="">100</text>
<line x1="506.20" y1="478.10" x2="506.20" y2="480.70" stroke="#000" stroke-width="0.9" />
<text x="506.20" y="490.50" font-size="7.1" text-anchor="middle" fill="#000" font-weight="normal"  style="">0</text>
<line x1="546.93" y1="478.10" x2="546.93" y2="480.70" stroke="#000" stroke-width="0.9" />
<text x="546.93" y="490.50" font-size="7.1" text-anchor="middle" fill="#000" font-weight="normal"  style="">1000</text>
<line x1="587.67" y1="478.10" x2="587.67" y2="480.70" stroke="#000" stroke-width="0.9" />
<text x="587.67" y="490.50" font-size="7.1" text-anchor="middle" fill="#000" font-weight="normal"  style="">2000</text>
<line x1="628.40" y1="478.10" x2="628.40" y2="480.70" stroke="#000" stroke-width="0.9" />
<text x="628.40" y="490.50" font-size="7.1" text-anchor="middle" fill="#000" font-weight="normal"  style="">3000</text>
<text x="567.30" y="503.40" font-size="7.1" text-anchor="middle" fill="#000" font-weight="normal"  style="">Days</text>
<text transform="translate(483.20,433.05) rotate(-90)" font-size="7.45" text-anchor="middle">Overall survival rate(%)</text>
<path d="M505.85,387.74 H507.37 V390.12 H511.30 V393.40 H514.39 V394.39 H517.51 V395.95 H519.16 V398.23 H521.98 V400.08 H523.15 V401.77 H527.43 V402.85 H531.47 V404.83 H533.67 V405.23 H537.79 V406.29 H540.96 V407.67 H545.08 V408.08 H547.37 V409.21 H550.45 V409.57 H553.29 V413.37 H554.91 V414.92 H559.94 V416.21 H563.11 V417.46 H565.63 V418.11 H568.48 V423.80 H571.25 V424.55 H575.12 V425.70 H578.64 V427.10 H580.81 V428.55 H584.61 V433.29 H587.46 V435.19 H590.61 V435.26 H593.52 V435.33 H595.91 V435.52 H598.22 V435.61 H601.69 V435.76 H609.28 V435.19 H616.87 V434.62 H621.62 V437.09 H625.64 V437.72 H628.26 V438.99" fill="none" stroke="#ff7f40" stroke-width="1.5" stroke-linejoin="miter"/>
<path d="M509.83,393.70 v-2.0 M513.57,394.69 v-2.0 M518.68,398.53 v-2.0 M521.39,400.38 v-2.0 M526.46,403.15 v-2.0 M530.73,405.13 v-2.0 M537.65,406.59 v-2.0 M540.15,407.97 v-2.0 M546.01,409.51 v-2.0 M552.50,413.67 v-2.0 M553.61,415.22 v-2.0 M567.25,424.10 v-2.0 M569.90,424.85 v-2.0 M574.56,426.00 v-2.0 M577.42,427.40 v-2.0 M590.35,435.56 v-2.0 M594.97,435.82 v-2.0 M600.37,436.06 v-2.0 M603.59,436.06 v-2.0 M607.38,436.06 v-2.0 M611.18,435.49 v-2.0 M614.98,435.49 v-2.0 M627.66,439.29 v-2.0" stroke="#ff7f40" stroke-width="0.8" fill="none"/>
<path d="M505.85,387.74 H508.99 V389.14 H511.29 V389.64 H514.39 V391.54 H516.06 V393.01 H517.59 V396.49 H521.98 V397.23 H525.78 V398.10 H529.56 V399.28 H531.47 V400.08 H533.21 V400.46 H536.53 V401.29 H540.96 V401.98 H544.70 V402.23 H547.56 V402.48 H550.54 V402.78 H552.35 V402.93 H556.14 V405.77 H557.71 V406.78 H558.94 V407.24 H563.73 V408.62 H566.40 V409.90 H569.70 V410.91 H571.32 V411.47 H574.13 V412.06 H576.99 V412.83 H580.47 V413.22 H582.71 V413.37 H586.51 V415.64 H589.35 V420.01 H593.30 V420.39 H595.52 V420.65 H596.77 V421.06 H598.99 V421.48 H601.69 V421.91 H605.47 V422.21 H607.38 V423.80 H609.28 V428.55 H618.77 H621.62 V431.40 H628.26" fill="none" stroke="#22c822" stroke-width="1.5" stroke-linejoin="miter"/>
<path d="M507.66,389.44 v-2.0 M517.50,396.79 v-2.0 M532.62,400.76 v-2.0 M544.17,402.53 v-2.0 M547.29,402.78 v-2.0 M557.32,407.08 v-2.0 M570.26,411.77 v-2.0 M585.50,415.94 v-2.0 M597.62,421.78 v-2.0 M601.46,422.21 v-2.0 M604.62,422.51 v-2.0 M607.85,428.85 v-2.0 M611.65,428.85 v-2.0 M616.40,428.85 v-2.0 M621.51,431.70 v-2.0 M624.94,431.70 v-2.0" stroke="#22c822" stroke-width="0.8" fill="none"/>
<path d="M505.85,387.74 H509.63 V389.32 H511.49 V390.26 H514.39 V392.49 H517.32 V393.00 H519.29 V395.21 H521.98 V396.66 H524.78 V397.11 H528.68 V398.06 H531.47 V399.13 H535.98 V399.90 H539.28 V400.23 H540.96 V401.03 H542.26 V401.61 H545.26 V402.44 H550.45 V402.93 H555.19 V405.77 H559.94 V407.29 H563.73 V409.57 H566.93 V410.77 H569.43 V411.47 H572.93 V412.01 H576.11 V412.69 H578.92 V413.37 H582.45 V414.11 H584.61 V415.26 H589.35 V418.11 H592.56 V418.45 H596.00 V419.06 H599.27 V420.17 H601.69 V420.96 H603.59 V421.73 H607.38 V421.91 H609.28 V425.70 H610.68 V425.77 H613.70 V425.98 H616.55 V426.12 H620.67 V426.27 H621.62 V433.29 H625.09 V433.72 H628.26 V433.86 H628.26 V438.04" fill="none" stroke="#ff1e1e" stroke-width="1.5" stroke-linejoin="miter"/>
<path d="M513.22,392.79 v-2.0 M517.10,393.30 v-2.0 M523.98,397.41 v-2.0 M544.09,402.74 v-2.0 M548.96,403.23 v-2.0 M554.44,406.07 v-2.0 M571.68,412.31 v-2.0 M581.05,414.41 v-2.0 M584.50,415.56 v-2.0 M606.56,422.21 v-2.0 M621.01,433.59 v-2.0 M627.64,434.16 v-2.0" stroke="#ff1e1e" stroke-width="0.8" fill="none"/>
<path d="M505.85,387.74 H507.57 V389.12 H512.49 V393.44 H514.76 V394.31 H518.49 V396.89 H521.98 V401.03 H523.40 V402.37 H526.88 V403.27 H531.47 V403.88 H533.78 V404.65 H537.16 V406.72 H539.86 V407.14 H543.50 V407.64 H546.65 V408.05 H549.24 V408.61 H552.35 V410.52 H554.30 V411.40 H557.47 V412.44 H559.94 V413.37 H562.97 V414.31 H565.63 V417.16 H568.48 V420.96 H571.94 V421.92 H575.12 V422.86 H578.92 V424.75 H581.46 V426.05 H584.61 V428.55 H587.46 V433.29 H591.07 V433.65 H594.10 V434.24 H596.78 V434.51 H599.94 V434.90 H601.69 V435.19 H602.86 V435.61 H606.94 V436.47 H609.28 V437.09 H612.82 V437.42 H615.53 V437.80 H616.87 V438.04 H620.38 V438.15 H623.06 V438.35 H625.81 V438.49 H628.26 V438.99" fill="none" stroke="#1e1e96" stroke-width="1.5" stroke-linejoin="miter"/>
<path d="M512.05,393.74 v-2.0 M518.00,397.19 v-2.0 M526.72,403.57 v-2.0 M530.24,404.18 v-2.0 M533.69,404.95 v-2.0 M535.84,407.02 v-2.0 M548.65,408.91 v-2.0 M551.93,410.82 v-2.0 M556.29,412.74 v-2.0 M564.30,417.46 v-2.0 M574.81,423.16 v-2.0 M578.35,425.05 v-2.0 M581.40,426.35 v-2.0 M583.78,428.85 v-2.0 M586.72,433.59 v-2.0 M589.64,433.95 v-2.0 M599.76,435.20 v-2.0 M600.49,435.49 v-2.0 M606.08,436.77 v-2.0 M608.11,437.39 v-2.0 M618.99,438.45 v-2.0 M627.89,439.29 v-2.0" stroke="#1e1e96" stroke-width="0.8" fill="none"/>
<line x1="547.00" y1="353.60" x2="556.00" y2="353.60" stroke="#ff1e1e" stroke-width="1.1" />
<line x1="551.50" y1="353.60" x2="551.50" y2="351.30" stroke="#ff1e1e" stroke-width="1.0" />
<text x="558.60" y="355.90" font-size="6.94" text-anchor="start" fill="#000" font-weight="normal"  style="">FDFT1 high and mTOR low</text>
<line x1="547.00" y1="364.00" x2="556.00" y2="364.00" stroke="#1e1e96" stroke-width="1.1" />
<line x1="551.50" y1="364.00" x2="551.50" y2="361.70" stroke="#1e1e96" stroke-width="1.0" />
<text x="558.60" y="366.30" font-size="6.94" text-anchor="start" fill="#000" font-weight="normal"  style="">FDFT1 low and mTOR high</text>
<line x1="547.00" y1="376.40" x2="556.00" y2="376.40" stroke="#22c822" stroke-width="1.1" />
<line x1="551.50" y1="376.40" x2="551.50" y2="374.10" stroke="#22c822" stroke-width="1.0" />
<text x="558.60" y="378.70" font-size="6.94" text-anchor="start" fill="#000" font-weight="normal"  style="">FDFT1 high and mTOR high</text>
<line x1="547.00" y1="387.90" x2="556.00" y2="387.90" stroke="#ff7f40" stroke-width="1.1" />
<line x1="551.50" y1="387.90" x2="551.50" y2="385.60" stroke="#ff7f40" stroke-width="1.0" />
<text x="558.60" y="390.20" font-size="6.94" text-anchor="start" fill="#000" font-weight="normal"  style="">FDFT1 low and mTOR low</text>
<path d="M645.60,354.30 H648.50 V364.50 H645.60" fill="none" stroke="#666" stroke-width="0.85"/>
<text x="652.20" y="361.20" font-size="6.6"><tspan font-style="italic">P</tspan> = 0.0465</text>
<path d="M646.80,376.90 H649.70 V387.80 H646.80" fill="none" stroke="#666" stroke-width="0.85"/>
<text x="653.10" y="383.80" font-size="6.6"><tspan font-style="italic">P</tspan> = 0.0223</text>
<text x="-0.60" y="520.80" font-size="16" text-anchor="start" fill="#000" font-weight="bold"  style="">h</text>
<line x1="29.70" y1="555.50" x2="29.70" y2="651.70" stroke="#000" stroke-width="1" />
<line x1="29.20" y1="651.20" x2="173.10" y2="651.20" stroke="#000" stroke-width="1" />
<line x1="27.10" y1="651.20" x2="29.70" y2="651.20" stroke="#000" stroke-width="0.9" />
<text x="23.30" y="653.70" font-size="7.1" text-anchor="end" fill="#000" font-weight="normal"  style="">0</text>
<line x1="27.10" y1="632.26" x2="29.70" y2="632.26" stroke="#000" stroke-width="0.9" />
<text x="23.30" y="634.76" font-size="7.1" text-anchor="end" fill="#000" font-weight="normal"  style="">20</text>
<line x1="27.10" y1="613.32" x2="29.70" y2="613.32" stroke="#000" stroke-width="0.9" />
<text x="23.30" y="615.82" font-size="7.1" text-anchor="end" fill="#000" font-weight="normal"  style="">40</text>
<line x1="27.10" y1="594.38" x2="29.70" y2="594.38" stroke="#000" stroke-width="0.9" />
<text x="23.30" y="596.88" font-size="7.1" text-anchor="end" fill="#000" font-weight="normal"  style="">60</text>
<line x1="27.10" y1="575.44" x2="29.70" y2="575.44" stroke="#000" stroke-width="0.9" />
<text x="23.30" y="577.94" font-size="7.1" text-anchor="end" fill="#000" font-weight="normal"  style="">80</text>
<line x1="27.10" y1="556.50" x2="29.70" y2="556.50" stroke="#000" stroke-width="0.9" />
<text x="23.30" y="559.00" font-size="7.1" text-anchor="end" fill="#000" font-weight="normal"  style="">100</text>
<line x1="29.70" y1="651.20" x2="29.70" y2="653.80" stroke="#000" stroke-width="0.9" />
<text x="29.70" y="663.60" font-size="7.1" text-anchor="middle" fill="#000" font-weight="normal"  style="">0</text>
<line x1="77.50" y1="651.20" x2="77.50" y2="653.80" stroke="#000" stroke-width="0.9" />
<text x="77.50" y="663.60" font-size="7.1" text-anchor="middle" fill="#000" font-weight="normal"  style="">1000</text>
<line x1="125.30" y1="651.20" x2="125.30" y2="653.80" stroke="#000" stroke-width="0.9" />
<text x="125.30" y="663.60" font-size="7.1" text-anchor="middle" fill="#000" font-weight="normal"  style="">2000</text>
<line x1="173.10" y1="651.20" x2="173.10" y2="653.80" stroke="#000" stroke-width="0.9" />
<text x="173.10" y="663.60" font-size="7.1" text-anchor="middle" fill="#000" font-weight="normal"  style="">3000</text>
<text x="101.40" y="676.50" font-size="7.1" text-anchor="middle" fill="#000" font-weight="normal"  style="">Days</text>
<text transform="translate(6.70,603.85) rotate(-90)" font-size="7.45" text-anchor="middle">Overall survival rate(%)</text>
<path d="M29.63,556.38 H31.57 V558.67 H35.92 V559.39 H37.95 V561.85 H40.70 V562.99 H44.05 V565.71 H47.09 V566.76 H48.90 V568.42 H50.52 V570.06 H53.08 V571.50 H57.73 V572.69 H59.84 V573.90 H64.45 V575.75 H66.41 V577.18 H69.92 V577.79 H73.27 V577.91 H74.22 V578.15 H76.31 V578.69 H78.35 V579.05 H81.74 V579.37 H86.12 V582.65 H89.35 V585.30 H92.69 V585.94 H96.29 V589.40 H99.26 V592.51 H102.14 V593.60 H105.83 V595.79 H109.38 V596.97 H111.56 V597.49 H115.13 V598.67 H117.77 V600.02 H118.96 V601.27 H123.34 V604.55 H126.42 V604.67 H129.84 V604.86 H132.10 V604.99 H133.95 V605.05 H136.71 V605.08 H139.49 V605.25 H141.96 V605.43 H145.82 V605.49 H146.91 V605.58 H149.62 V605.65 H152.07 V606.30 H155.21 V607.20 H158.38 V607.84 H160.82 V607.97 H164.12 V608.34 H167.34 V608.62 H169.64 V608.81 H171.18 V609.01 H173.27 V609.37" fill="none" stroke="#ff7f40" stroke-width="1.5" stroke-linejoin="miter"/>
<path d="M30.67,558.97 v-2.0 M37.06,562.15 v-2.0 M40.39,563.29 v-2.0 M43.28,566.01 v-2.0 M47.07,567.06 v-2.0 M48.26,568.72 v-2.0 M49.28,570.36 v-2.0 M59.23,574.20 v-2.0 M69.38,578.09 v-2.0 M72.81,578.45 v-2.0 M77.64,579.35 v-2.0 M80.38,579.67 v-2.0 M95.98,589.70 v-2.0 M98.04,592.81 v-2.0 M101.53,593.90 v-2.0 M105.31,596.09 v-2.0 M111.42,597.79 v-2.0 M114.97,598.97 v-2.0 M122.58,604.85 v-2.0 M126.41,604.97 v-2.0 M128.37,605.16 v-2.0 M131.22,605.29 v-2.0 M133.79,605.35 v-2.0 M144.59,605.79 v-2.0 M155.00,607.50 v-2.0 M157.67,608.14 v-2.0 M163.38,608.64 v-2.0 M166.01,608.92 v-2.0 M168.60,609.11 v-2.0 M170.31,609.31 v-2.0" stroke="#ff7f40" stroke-width="0.8" fill="none"/>
<path d="M29.63,556.38 H31.80 V557.05 H35.70 V558.73 H37.95 V560.32 H40.95 V561.77 H43.66 V563.98 H47.43 V565.26 H48.90 V566.23 H52.87 V567.18 H54.47 V567.70 H56.24 V568.79 H59.84 V569.52 H61.94 V569.89 H66.13 V569.99 H68.01 V570.40 H70.79 V570.61 H73.62 V571.48 H75.22 V571.81 H77.66 V572.41 H81.74 V572.80 H86.12 V574.99 H90.09 V576.69 H92.69 V577.18 H95.15 V578.82 H99.26 V579.37 H101.36 V579.72 H104.86 V580.02 H107.80 V580.38 H110.21 V580.47 H112.18 V581.30 H115.06 V582.58 H118.96 V583.75 H123.34 V585.94 H127.72 V589.22 H132.10 V593.60 H147.43 H150.71 V599.08 H163.85 H164.95 V601.27 H166.56 V603.01 H169.19 V607.20 H173.27 V608.93" fill="none" stroke="#22c822" stroke-width="1.5" stroke-linejoin="miter"/>
<path d="M35.09,559.03 v-2.0 M37.57,560.62 v-2.0 M42.29,564.28 v-2.0 M52.04,567.48 v-2.0 M54.99,569.09 v-2.0 M69.68,570.91 v-2.0 M73.36,571.78 v-2.0 M74.49,572.11 v-2.0 M76.19,572.71 v-2.0 M81.05,573.10 v-2.0 M89.76,576.99 v-2.0 M92.51,577.48 v-2.0 M97.77,579.67 v-2.0 M110.01,580.77 v-2.0 M122.53,586.24 v-2.0 M127.44,589.52 v-2.0 M131.44,593.90 v-2.0 M134.02,593.90 v-2.0 M137.85,593.90 v-2.0 M141.68,593.90 v-2.0 M145.51,593.90 v-2.0 M152.90,599.38 v-2.0 M157.28,599.38 v-2.0 M161.66,599.38 v-2.0 M165.82,603.31 v-2.0 M168.16,607.50 v-2.0 M172.48,609.23 v-2.0" stroke="#22c822" stroke-width="0.8" fill="none"/>
<path d="M29.63,556.38 H33.64 V558.21 H35.56 V558.85 H37.95 V560.76 H40.50 V561.76 H42.04 V563.61 H45.73 V564.69 H48.90 V566.23 H50.45 V567.02 H54.68 V567.58 H58.75 V567.98 H59.84 V569.08 H62.07 V569.44 H64.78 V570.44 H68.16 V571.17 H70.79 V571.71 H72.34 V571.98 H77.45 V572.75 H80.48 V573.23 H81.74 V573.90 H83.14 V575.65 H88.31 V577.18 H92.69 V580.47 H97.07 V583.75 H99.61 V583.87 H103.21 V583.96 H104.72 V584.12 H108.12 V584.23 H109.85 V584.29 H111.21 V584.36 H114.58 V584.41 H118.96 V586.60 H120.89 V587.47 H125.53 V588.13 H127.72 V590.98 H132.10 V592.51 H147.43 H149.62 V596.89 H152.87 V597.08 H155.14 V597.25 H157.56 V597.53 H159.38 V597.90 H163.85 V597.98 H164.95 V603.46 H168.19 V603.95 H169.78 V604.39 H173.27 V604.55 H173.27 V610.02" fill="none" stroke="#ff1e1e" stroke-width="1.5" stroke-linejoin="miter"/>
<path d="M39.67,562.06 v-2.0 M45.08,564.99 v-2.0 M50.01,567.32 v-2.0 M70.77,572.01 v-2.0 M71.63,572.28 v-2.0 M76.03,573.05 v-2.0 M79.15,573.53 v-2.0 M81.70,575.95 v-2.0 M87.84,577.48 v-2.0 M99.08,584.17 v-2.0 M104.06,584.42 v-2.0 M111.11,584.66 v-2.0 M113.45,584.71 v-2.0 M118.16,586.90 v-2.0 M131.54,592.81 v-2.0 M134.02,592.81 v-2.0 M137.85,592.81 v-2.0 M141.68,592.81 v-2.0 M145.51,592.81 v-2.0 M149.33,597.19 v-2.0 M151.37,597.38 v-2.0 M156.38,597.83 v-2.0 M158.16,598.20 v-2.0 M164.50,603.76 v-2.0 M167.43,604.25 v-2.0" stroke="#ff1e1e" stroke-width="0.8" fill="none"/>
<path d="M29.63,556.38 H31.75 V558.51 H34.34 V561.22 H37.95 V561.85 H42.09 V564.44 H45.79 V565.95 H47.23 V566.50 H48.90 V568.42 H52.31 V569.20 H55.74 V570.42 H58.68 V571.45 H59.84 V572.80 H62.43 V573.34 H65.84 V573.74 H67.57 V574.26 H70.79 V576.09 H72.54 V576.29 H75.22 V577.01 H79.72 V577.67 H81.74 V578.28 H86.12 V580.03 H89.10 V581.53 H92.69 V583.75 H96.90 V585.88 H99.26 V588.13 H101.45 V591.41 H103.83 V592.87 H107.74 V594.07 H110.21 V594.70 H113.17 V596.56 H116.77 V597.98 H121.15 V601.27 H125.53 V604.55 H130.00 V605.99 H132.10 V607.84 H149.62 H151.81 V610.02 H153.76 V610.07 H155.28 V610.13 H159.31 V610.19 H161.39 V610.29 H163.13 V610.46 H167.38 V610.59 H169.02 V610.62 H173.27 V610.68" fill="none" stroke="#1e1e96" stroke-width="1.5" stroke-linejoin="miter"/>
<path d="M37.92,562.15 v-2.0 M40.81,564.74 v-2.0 M45.68,566.25 v-2.0 M47.81,568.72 v-2.0 M55.70,570.72 v-2.0 M59.44,573.10 v-2.0 M61.34,573.64 v-2.0 M64.41,574.04 v-2.0 M66.75,574.56 v-2.0 M69.99,576.39 v-2.0 M71.89,576.59 v-2.0 M74.20,577.31 v-2.0 M81.15,578.58 v-2.0 M91.94,584.05 v-2.0 M98.96,588.43 v-2.0 M100.30,591.71 v-2.0 M103.56,593.17 v-2.0 M109.53,595.00 v-2.0 M112.28,596.86 v-2.0 M120.06,601.57 v-2.0 M125.06,604.85 v-2.0 M129.25,606.29 v-2.0 M133.85,608.14 v-2.0 M137.36,608.14 v-2.0 M140.86,608.14 v-2.0 M144.36,608.14 v-2.0 M147.87,608.14 v-2.0 M158.07,610.49 v-2.0 M162.02,610.76 v-2.0 M166.12,610.89 v-2.0 M168.81,610.92 v-2.0 M173.23,610.98 v-2.0" stroke="#1e1e96" stroke-width="0.8" fill="none"/>
<line x1="70.00" y1="531.00" x2="80.60" y2="531.00" stroke="#ff1e1e" stroke-width="1.1" />
<line x1="75.30" y1="531.00" x2="75.30" y2="528.70" stroke="#ff1e1e" stroke-width="1.0" />
<text x="84.60" y="533.20" font-size="7.64" text-anchor="start" fill="#000" font-weight="normal"  style="">FDFT1 high and HIF1a low</text>
<line x1="70.00" y1="541.60" x2="80.60" y2="541.60" stroke="#1e1e96" stroke-width="1.1" />
<line x1="75.30" y1="541.60" x2="75.30" y2="539.30" stroke="#1e1e96" stroke-width="1.0" />
<text x="84.60" y="543.80" font-size="7.64" text-anchor="start" fill="#000" font-weight="normal"  style="">FDFT1 low and HIF1a high</text>
<line x1="70.00" y1="552.30" x2="80.60" y2="552.30" stroke="#22c822" stroke-width="1.1" />
<line x1="75.30" y1="552.30" x2="75.30" y2="550.00" stroke="#22c822" stroke-width="1.0" />
<text x="84.60" y="554.50" font-size="7.64" text-anchor="start" fill="#000" font-weight="normal"  style="">FDFT1 high and HIF1a high</text>
<line x1="70.00" y1="563.40" x2="80.60" y2="563.40" stroke="#ff7f40" stroke-width="1.1" />
<line x1="75.30" y1="563.40" x2="75.30" y2="561.10" stroke="#ff7f40" stroke-width="1.0" />
<text x="84.60" y="565.60" font-size="7.64" text-anchor="start" fill="#000" font-weight="normal"  style="">FDFT1 low and HIF1a low</text>
<path d="M179.60,529.40 H182.50 V541.50 H179.60" fill="none" stroke="#666" stroke-width="0.85"/>
<text x="187.60" y="539.00" font-size="6.6"><tspan font-style="italic">P</tspan> = 0.05</text>
<path d="M182.60,552.20 H185.50 V563.50 H182.60" fill="none" stroke="#666" stroke-width="0.85"/>
<text x="189.00" y="561.20" font-size="6.6"><tspan font-style="italic">P</tspan> = 0.0196</text>
<text x="244.80" y="521.30" font-size="16" text-anchor="start" fill="#000" font-weight="bold"  style="">i</text>
<line x1="275.00" y1="555.40" x2="275.00" y2="654.00" stroke="#000" stroke-width="1" />
<line x1="274.50" y1="653.50" x2="419.60" y2="653.50" stroke="#000" stroke-width="1" />
<line x1="272.40" y1="653.50" x2="275.00" y2="653.50" stroke="#000" stroke-width="0.9" />
<text x="268.60" y="656.00" font-size="7.1" text-anchor="end" fill="#000" font-weight="normal"  style="">0</text>
<line x1="272.40" y1="634.08" x2="275.00" y2="634.08" stroke="#000" stroke-width="0.9" />
<text x="268.60" y="636.58" font-size="7.1" text-anchor="end" fill="#000" font-weight="normal"  style="">20</text>
<line x1="272.40" y1="614.66" x2="275.00" y2="614.66" stroke="#000" stroke-width="0.9" />
<text x="268.60" y="617.16" font-size="7.1" text-anchor="end" fill="#000" font-weight="normal"  style="">40</text>
<line x1="272.40" y1="595.24" x2="275.00" y2="595.24" stroke="#000" stroke-width="0.9" />
<text x="268.60" y="597.74" font-size="7.1" text-anchor="end" fill="#000" font-weight="normal"  style="">60</text>
<line x1="272.40" y1="575.82" x2="275.00" y2="575.82" stroke="#000" stroke-width="0.9" />
<text x="268.60" y="578.32" font-size="7.1" text-anchor="end" fill="#000" font-weight="normal"  style="">80</text>
<line x1="272.40" y1="556.40" x2="275.00" y2="556.40" stroke="#000" stroke-width="0.9" />
<text x="268.60" y="558.90" font-size="7.1" text-anchor="end" fill="#000" font-weight="normal"  style="">100</text>
<line x1="275.00" y1="653.50" x2="275.00" y2="656.10" stroke="#000" stroke-width="0.9" />
<text x="275.00" y="665.90" font-size="7.1" text-anchor="middle" fill="#000" font-weight="normal"  style="">0</text>
<line x1="323.20" y1="653.50" x2="323.20" y2="656.10" stroke="#000" stroke-width="0.9" />
<text x="323.20" y="665.90" font-size="7.1" text-anchor="middle" fill="#000" font-weight="normal"  style="">1000</text>
<line x1="371.40" y1="653.50" x2="371.40" y2="656.10" stroke="#000" stroke-width="0.9" />
<text x="371.40" y="665.90" font-size="7.1" text-anchor="middle" fill="#000" font-weight="normal"  style="">2000</text>
<line x1="419.60" y1="653.50" x2="419.60" y2="656.10" stroke="#000" stroke-width="0.9" />
<text x="419.60" y="665.90" font-size="7.1" text-anchor="middle" fill="#000" font-weight="normal"  style="">3000</text>
<text x="347.30" y="678.80" font-size="7.1" text-anchor="middle" fill="#000" font-weight="normal"  style="">Days</text>
<text transform="translate(252.00,604.95) rotate(-90)" font-size="7.45" text-anchor="middle">Overall survival rate(%)</text>
<path d="M274.63,555.94 H279.23 V557.34 H280.86 V559.27 H282.95 V561.85 H285.42 V563.84 H289.78 V565.63 H292.59 V566.68 H293.90 V568.42 H297.54 V570.11 H298.89 V571.47 H300.58 V572.10 H304.84 V572.80 H307.83 V574.57 H311.92 V574.93 H313.58 V575.38 H315.79 V576.09 H319.34 V577.24 H323.08 V577.51 H324.55 V577.84 H328.93 V579.37 H331.14 V582.84 H335.50 V584.84 H338.51 V586.81 H342.07 V589.22 H346.45 V592.51 H349.92 V593.44 H352.12 V594.82 H355.21 V595.79 H358.64 V597.05 H361.75 V600.32 H363.96 V601.27 H366.43 V603.66 H370.53 V606.74 H374.35 V606.96 H375.77 V607.25 H379.72 V607.63 H381.48 V607.84 H383.61 V608.32 H384.84 V608.80 H388.30 V609.29 H390.89 V609.56 H394.62 V610.02 H398.04 V610.07 H401.26 V610.18 H402.72 V610.31 H404.70 V610.43 H406.95 V610.58 H409.95 V610.68 H412.14 V613.31 H419.14" fill="none" stroke="#ff7f40" stroke-width="1.5" stroke-linejoin="miter"/>
<path d="M278.52,557.64 v-2.0 M279.80,559.57 v-2.0 M282.89,562.15 v-2.0 M284.41,564.14 v-2.0 M299.22,572.40 v-2.0 M304.32,573.10 v-2.0 M311.67,575.23 v-2.0 M318.47,577.54 v-2.0 M322.16,577.81 v-2.0 M323.73,578.14 v-2.0 M328.77,579.67 v-2.0 M329.78,583.14 v-2.0 M335.32,585.14 v-2.0 M342.02,589.52 v-2.0 M348.69,593.74 v-2.0 M351.41,595.12 v-2.0 M355.10,596.09 v-2.0 M357.39,597.35 v-2.0 M360.28,600.62 v-2.0 M363.85,601.57 v-2.0 M375.42,607.55 v-2.0 M379.27,607.93 v-2.0 M380.22,608.14 v-2.0 M382.35,608.62 v-2.0 M390.04,609.86 v-2.0 M401.79,610.61 v-2.0 M403.72,610.73 v-2.0 M410.86,613.61 v-2.0 M413.89,613.61 v-2.0 M417.39,613.61 v-2.0" stroke="#ff7f40" stroke-width="0.8" fill="none"/>
<path d="M274.63,555.94 H276.96 V557.19 H280.68 V558.98 H282.95 V560.32 H286.16 V560.98 H289.63 V562.93 H290.48 V563.75 H293.90 V566.23 H296.01 V567.04 H299.20 V567.32 H300.69 V568.36 H304.84 V569.52 H306.93 V570.67 H309.23 V571.94 H312.77 V573.07 H315.79 V573.90 H318.94 V574.17 H321.01 V574.46 H324.49 V574.73 H326.74 V574.99 H331.12 V577.18 H334.60 V578.02 H337.69 V579.37 H340.14 V580.02 H343.17 V580.81 H346.45 V581.56 H349.63 V582.00 H352.55 V582.23 H355.21 V582.65 H356.77 V582.94 H358.67 V583.90 H363.96 V584.84 H367.10 V586.15 H370.13 V587.09 H372.72 V588.13 H376.32 V589.44 H378.20 V591.41 H393.52 H396.81 V597.98 H409.95 H412.14 V601.27 H415.92 V602.91 H419.14 V603.46" fill="none" stroke="#22c822" stroke-width="1.5" stroke-linejoin="miter"/>
<path d="M279.46,559.28 v-2.0 M282.00,560.62 v-2.0 M288.58,563.23 v-2.0 M292.46,566.53 v-2.0 M295.94,567.34 v-2.0 M299.99,568.66 v-2.0 M304.79,569.82 v-2.0 M305.54,570.97 v-2.0 M311.32,573.37 v-2.0 M320.19,574.76 v-2.0 M324.31,575.03 v-2.0 M345.81,581.86 v-2.0 M348.98,582.30 v-2.0 M351.88,582.53 v-2.0 M356.19,583.24 v-2.0 M362.49,585.14 v-2.0 M366.32,586.45 v-2.0 M371.25,588.43 v-2.0 M375.00,589.74 v-2.0 M380.11,591.71 v-2.0 M383.94,591.71 v-2.0 M387.78,591.71 v-2.0 M391.61,591.71 v-2.0 M395.91,598.28 v-2.0 M399.00,598.28 v-2.0 M403.38,598.28 v-2.0 M407.76,598.28 v-2.0 M415.25,603.21 v-2.0" stroke="#22c822" stroke-width="0.8" fill="none"/>
<path d="M274.63,555.94 H277.09 V557.61 H279.89 V558.41 H282.95 V560.76 H285.49 V562.70 H287.69 V564.45 H290.91 V566.14 H293.90 V566.89 H295.96 V567.83 H299.62 V568.51 H301.27 V568.84 H304.84 V569.08 H308.25 V569.66 H310.80 V570.25 H312.39 V570.46 H315.79 V570.61 H317.78 V570.82 H320.89 V571.31 H323.43 V571.67 H326.74 V572.14 H328.93 V573.90 H333.31 V577.84 H337.69 V579.37 H341.29 V579.70 H343.67 V580.36 H346.45 V581.56 H348.64 V584.41 H352.09 V584.58 H355.37 V584.68 H358.26 V584.89 H360.11 V585.12 H361.52 V585.22 H363.96 V585.28 H368.34 V587.03 H372.72 V589.22 H377.10 V592.51 H380.12 V592.60 H383.84 V592.80 H385.78 V593.03 H387.24 V593.25 H388.56 V593.47 H392.43 V593.60 H394.62 V599.08 H397.01 V599.26 H400.67 V599.45 H403.16 V599.57 H405.57 V599.67 H407.80 V600.03 H409.95 V600.17 H412.14 V605.65 H416.71 V605.85 H419.14 V606.30 H419.14 V611.12" fill="none" stroke="#ff1e1e" stroke-width="1.5" stroke-linejoin="miter"/>
<path d="M285.22,563.00 v-2.0 M290.28,566.44 v-2.0 M293.23,567.19 v-2.0 M303.84,569.38 v-2.0 M316.64,571.12 v-2.0 M322.77,571.97 v-2.0 M342.58,580.66 v-2.0 M347.27,584.71 v-2.0 M358.24,585.19 v-2.0 M358.82,585.42 v-2.0 M363.41,585.58 v-2.0 M376.57,592.81 v-2.0 M378.88,592.90 v-2.0 M387.20,593.77 v-2.0 M392.09,593.90 v-2.0 M400.20,599.75 v-2.0 M402.23,599.87 v-2.0 M406.34,600.33 v-2.0 M411.23,605.95 v-2.0" stroke="#ff1e1e" stroke-width="0.8" fill="none"/>
<path d="M274.63,555.94 H277.20 V557.31 H280.24 V559.44 H282.95 V561.85 H284.65 V563.76 H286.83 V565.13 H290.16 V568.59 H293.90 V569.52 H297.48 V570.21 H299.99 V571.02 H301.67 V572.33 H304.84 V572.80 H307.76 V575.38 H310.88 V576.07 H313.58 V577.41 H315.79 V578.28 H318.17 V579.04 H321.02 V579.69 H323.17 V579.96 H326.74 V580.47 H331.12 V583.75 H334.26 V585.50 H337.69 V587.03 H342.15 V588.47 H344.26 V590.32 H347.74 V591.71 H350.83 V593.60 H354.04 V595.34 H355.44 V596.23 H359.58 V596.89 H361.13 V598.51 H366.15 V602.36 H370.53 V606.74 H372.67 V606.96 H376.09 V607.52 H377.92 V607.71 H381.48 V607.84 H383.53 V607.89 H387.63 V607.97 H389.41 V608.12 H391.56 V608.27 H394.62 V608.49 H397.17 V608.79 H400.44 V609.07 H403.38 V609.37 H412.14 V608.93 H416.34 V609.20 H419.14 V610.02" fill="none" stroke="#1e1e96" stroke-width="1.5" stroke-linejoin="miter"/>
<path d="M276.93,557.61 v-2.0 M281.48,562.15 v-2.0 M286.28,565.43 v-2.0 M289.98,568.89 v-2.0 M292.80,569.82 v-2.0 M296.98,570.51 v-2.0 M304.07,573.10 v-2.0 M316.78,579.34 v-2.0 M322.80,580.26 v-2.0 M337.14,587.33 v-2.0 M341.41,588.77 v-2.0 M343.57,590.62 v-2.0 M350.49,593.90 v-2.0 M365.29,602.66 v-2.0 M370.01,607.04 v-2.0 M377.13,608.01 v-2.0 M380.53,608.14 v-2.0 M383.35,608.19 v-2.0 M391.38,608.57 v-2.0 M405.57,609.67 v-2.0 M409.95,609.67 v-2.0 M417.73,610.32 v-2.0" stroke="#1e1e96" stroke-width="0.8" fill="none"/>
<line x1="306.80" y1="523.00" x2="317.00" y2="523.00" stroke="#ff1e1e" stroke-width="1.1" />
<line x1="311.90" y1="523.00" x2="311.90" y2="520.70" stroke="#ff1e1e" stroke-width="1.0" />
<text x="321.00" y="524.90" font-size="7.74" text-anchor="start" fill="#000" font-weight="normal"  style="">FDFT1 high and GLUT1 low</text>
<line x1="306.80" y1="534.20" x2="317.00" y2="534.20" stroke="#1e1e96" stroke-width="1.1" />
<line x1="311.90" y1="534.20" x2="311.90" y2="531.90" stroke="#1e1e96" stroke-width="1.0" />
<text x="321.00" y="536.10" font-size="7.74" text-anchor="start" fill="#000" font-weight="normal"  style="">FDFT1 low and GLUT1 high</text>
<line x1="306.80" y1="545.60" x2="317.00" y2="545.60" stroke="#22c822" stroke-width="1.1" />
<line x1="311.90" y1="545.60" x2="311.90" y2="543.30" stroke="#22c822" stroke-width="1.0" />
<text x="321.00" y="547.50" font-size="7.74" text-anchor="start" fill="#000" font-weight="normal"  style="">FDFT1 high and GLUT1 high</text>
<line x1="306.80" y1="556.80" x2="317.00" y2="556.80" stroke="#ff7f40" stroke-width="1.1" />
<line x1="311.90" y1="556.80" x2="311.90" y2="554.50" stroke="#ff7f40" stroke-width="1.0" />
<text x="321.00" y="558.70" font-size="7.74" text-anchor="start" fill="#000" font-weight="normal"  style="">FDFT1 low and GLUT1 low</text>
<path d="M422.00,523.20 H424.90 V536.40 H422.00" fill="none" stroke="#666" stroke-width="0.85"/>
<text x="427.20" y="531.80" font-size="6.6"><tspan font-style="italic">P</tspan> = 0.0234</text>
<path d="M423.90,546.20 H426.80 V559.20 H423.90" fill="none" stroke="#666" stroke-width="0.85"/>
<text x="429.50" y="555.10" font-size="6.6"><tspan font-style="italic">P</tspan> = 0.0455</text>
<text x="475.10" y="521.60" font-size="16" text-anchor="start" fill="#000" font-weight="bold"  style="">j</text>
<line x1="504.70" y1="560.50" x2="504.70" y2="653.20" stroke="#000" stroke-width="1" />
<line x1="504.20" y1="652.70" x2="636.80" y2="652.70" stroke="#000" stroke-width="1" />
<line x1="502.10" y1="652.70" x2="504.70" y2="652.70" stroke="#000" stroke-width="0.9" />
<text x="498.30" y="655.20" font-size="7.1" text-anchor="end" fill="#000" font-weight="normal"  style="">0</text>
<line x1="502.10" y1="634.46" x2="504.70" y2="634.46" stroke="#000" stroke-width="0.9" />
<text x="498.30" y="636.96" font-size="7.1" text-anchor="end" fill="#000" font-weight="normal"  style="">20</text>
<line x1="502.10" y1="616.22" x2="504.70" y2="616.22" stroke="#000" stroke-width="0.9" />
<text x="498.30" y="618.72" font-size="7.1" text-anchor="end" fill="#000" font-weight="normal"  style="">40</text>
<line x1="502.10" y1="597.98" x2="504.70" y2="597.98" stroke="#000" stroke-width="0.9" />
<text x="498.30" y="600.48" font-size="7.1" text-anchor="end" fill="#000" font-weight="normal"  style="">60</text>
<line x1="502.10" y1="579.74" x2="504.70" y2="579.74" stroke="#000" stroke-width="0.9" />
<text x="498.30" y="582.24" font-size="7.1" text-anchor="end" fill="#000" font-weight="normal"  style="">80</text>
<line x1="502.10" y1="561.50" x2="504.70" y2="561.50" stroke="#000" stroke-width="0.9" />
<text x="498.30" y="564.00" font-size="7.1" text-anchor="end" fill="#000" font-weight="normal"  style="">100</text>
<line x1="504.70" y1="652.70" x2="504.70" y2="655.30" stroke="#000" stroke-width="0.9" />
<text x="504.70" y="665.10" font-size="7.1" text-anchor="middle" fill="#000" font-weight="normal"  style="">0</text>
<line x1="548.73" y1="652.70" x2="548.73" y2="655.30" stroke="#000" stroke-width="0.9" />
<text x="548.73" y="665.10" font-size="7.1" text-anchor="middle" fill="#000" font-weight="normal"  style="">1000</text>
<line x1="592.77" y1="652.70" x2="592.77" y2="655.30" stroke="#000" stroke-width="0.9" />
<text x="592.77" y="665.10" font-size="7.1" text-anchor="middle" fill="#000" font-weight="normal"  style="">2000</text>
<line x1="636.80" y1="652.70" x2="636.80" y2="655.30" stroke="#000" stroke-width="0.9" />
<text x="636.80" y="665.10" font-size="7.1" text-anchor="middle" fill="#000" font-weight="normal"  style="">3000</text>
<text x="570.75" y="678.00" font-size="7.1" text-anchor="middle" fill="#000" font-weight="normal"  style="">Days</text>
<text transform="translate(481.70,607.10) rotate(-90)" font-size="7.45" text-anchor="middle">Overall survival rate(%)</text>
<path d="M504.45,561.09 H507.34 V561.97 H509.30 V565.21 H512.22 V567.22 H515.90 V568.40 H517.74 V570.41 H518.83 V571.14 H522.44 V572.94 H523.90 V573.54 H525.80 V574.35 H530.30 V575.44 H532.66 V576.42 H534.14 V578.76 H538.79 V581.52 H540.95 V581.80 H545.93 V582.02 H547.16 V582.29 H549.01 V582.55 H551.80 V585.34 H555.14 V588.68 H556.90 V589.79 H559.70 V590.24 H563.31 V590.72 H566.97 V592.62 H569.44 V594.81 H573.57 V595.74 H575.57 V596.85 H578.36 V598.09 H580.46 V599.09 H583.75 V599.92 H585.57 V604.24 H589.88 V606.05 H593.97 V611.16 H608.27 H611.56 V611.33 H614.71 V611.66 H616.45 V611.77 H618.55 V611.87 H620.56 V611.89 H622.02 V612.03 H625.34 V612.11 H627.76 V612.24 H629.84 V612.38 H632.88 V612.48 H636.48 V612.59" fill="none" stroke="#ff7f40" stroke-width="1.5" stroke-linejoin="miter"/>
<path d="M507.83,565.51 v-2.0 M523.63,573.84 v-2.0 M546.22,582.59 v-2.0 M555.55,590.09 v-2.0 M561.96,591.02 v-2.0 M568.82,595.11 v-2.0 M574.31,597.15 v-2.0 M577.51,598.39 v-2.0 M579.66,599.39 v-2.0 M583.22,600.22 v-2.0 M589.57,606.35 v-2.0 M592.48,611.46 v-2.0 M595.76,611.46 v-2.0 M599.33,611.46 v-2.0 M602.91,611.46 v-2.0 M606.49,611.46 v-2.0 M611.12,611.63 v-2.0 M614.67,611.96 v-2.0 M620.30,612.19 v-2.0 M624.32,612.41 v-2.0 M626.75,612.54 v-2.0 M632.02,612.78 v-2.0 M636.09,612.89 v-2.0" stroke="#ff7f40" stroke-width="0.8" fill="none"/>
<path d="M504.45,561.09 H507.28 V562.02 H509.90 V563.18 H512.22 V565.17 H513.67 V567.38 H516.98 V569.00 H519.16 V570.22 H522.44 V571.31 H524.91 V572.05 H527.04 V572.99 H530.88 V573.95 H532.66 V574.37 H535.41 V575.34 H537.52 V575.64 H539.85 V576.22 H542.87 V576.42 H544.64 V576.61 H545.84 V576.80 H548.83 V577.04 H552.12 V577.17 H555.14 V577.44 H558.20 V579.48 H559.29 V580.61 H563.31 V582.55 H567.40 V585.61 H571.49 V586.63 H574.44 V587.01 H578.04 V587.56 H579.02 V587.95 H582.14 V588.25 H583.75 V588.68 H586.16 V588.81 H588.39 V589.33 H591.92 V589.70 H596.01 V594.81 H612.36 H615.43 V602.98 H627.69 H628.71 V610.14 H632.84 V610.33 H635.42 V610.49 H636.48 V610.55" fill="none" stroke="#22c822" stroke-width="1.5" stroke-linejoin="miter"/>
<path d="M509.65,563.48 v-2.0 M518.46,570.52 v-2.0 M523.53,572.35 v-2.0 M525.55,573.29 v-2.0 M529.62,574.25 v-2.0 M531.65,574.67 v-2.0 M535.19,575.64 v-2.0 M536.59,575.94 v-2.0 M539.62,576.52 v-2.0 M541.65,576.72 v-2.0 M562.44,582.85 v-2.0 M574.06,587.31 v-2.0 M578.72,588.25 v-2.0 M581.38,588.55 v-2.0 M582.95,588.98 v-2.0 M585.34,589.11 v-2.0 M594.85,595.11 v-2.0 M598.06,595.11 v-2.0 M602.14,595.11 v-2.0 M606.23,595.11 v-2.0 M610.32,595.11 v-2.0 M617.47,603.28 v-2.0 M621.56,603.28 v-2.0 M625.65,603.28 v-2.0 M631.52,610.63 v-2.0 M635.15,610.79 v-2.0 M635.28,610.85 v-2.0" stroke="#22c822" stroke-width="0.8" fill="none"/>
<path d="M504.45,561.09 H507.14 V562.49 H509.94 V564.65 H512.22 V566.20 H514.01 V567.54 H516.82 V568.12 H520.81 V570.38 H522.44 V571.31 H525.14 V571.86 H526.90 V572.18 H529.61 V573.16 H532.66 V573.76 H535.24 V574.32 H537.38 V574.70 H539.21 V575.31 H542.87 V575.80 H546.26 V576.03 H548.57 V576.52 H549.79 V576.96 H553.09 V577.44 H556.16 V580.50 H560.36 V581.82 H563.31 V582.55 H567.40 V585.61 H570.05 V586.01 H571.71 V586.40 H575.39 V586.55 H580.09 V587.12 H581.36 V587.53 H583.75 V587.66 H587.84 V589.70 H591.92 V590.72 H593.97 V592.77 H596.39 V594.27 H600.10 V595.83 H601.94 V595.97 H606.31 V596.26 H608.54 V596.59 H610.25 V596.69 H612.36 V596.85 H615.43 V600.94 H616.69 V601.07 H619.90 V601.35 H620.94 V601.56 H624.29 V601.71 H627.69 V601.96 H628.71 V603.60 H630.91 V603.66 H634.75 V603.76 H636.48 V604.01 H636.48 V610.14" fill="none" stroke="#ff1e1e" stroke-width="1.5" stroke-linejoin="miter"/>
<path d="M509.31,564.95 v-2.0 M513.61,567.84 v-2.0 M521.07,571.61 v-2.0 M524.86,572.16 v-2.0 M526.76,572.48 v-2.0 M534.72,574.62 v-2.0 M537.79,575.61 v-2.0 M542.55,576.10 v-2.0 M545.41,576.33 v-2.0 M552.78,577.74 v-2.0 M556.05,580.80 v-2.0 M575.14,586.85 v-2.0 M586.76,590.00 v-2.0 M593.46,593.07 v-2.0 M595.87,594.57 v-2.0 M598.75,596.13 v-2.0 M600.92,596.27 v-2.0 M605.55,596.56 v-2.0 M608.93,596.99 v-2.0 M614.47,601.24 v-2.0 M616.48,601.37 v-2.0 M623.61,602.01 v-2.0 M627.97,603.90 v-2.0 M635.07,604.31 v-2.0" stroke="#ff1e1e" stroke-width="0.8" fill="none"/>
<path d="M504.45,561.09 H507.06 V562.11 H509.92 V564.43 H512.22 V567.22 H515.88 V568.80 H517.23 V571.14 H518.77 V572.30 H522.44 V573.35 H524.81 V574.10 H528.46 V575.80 H531.69 V576.45 H532.66 V577.44 H534.88 V577.89 H538.26 V578.73 H541.09 V579.56 H542.87 V580.50 H546.83 V580.95 H549.01 V581.52 H553.09 V584.59 H555.53 V584.96 H556.69 V586.64 H561.27 V587.66 H565.50 V589.68 H567.40 V591.74 H571.49 V596.85 H574.37 V597.69 H577.34 V597.98 H579.66 V598.90 H582.48 V600.55 H585.79 V602.98 H589.88 V606.05 H593.97 V608.09 H596.41 V608.34 H599.78 V608.54 H603.75 V608.82 H604.96 V609.01 H608.27 V609.12 H610.70 V609.62 H613.41 V610.61 H616.45 V611.16 H618.28 V611.79 H620.15 V612.18 H622.72 V612.33 H624.97 V612.74 H628.71 V613.20 H629.73 V615.86 H634.45 V616.06 H636.48 V616.27" fill="none" stroke="#1e1e96" stroke-width="1.5" stroke-linejoin="miter"/>
<path d="M506.42,562.41 v-2.0 M511.66,567.52 v-2.0 M521.49,573.65 v-2.0 M524.29,574.40 v-2.0 M531.65,576.75 v-2.0 M531.22,577.74 v-2.0 M538.01,579.03 v-2.0 M542.31,580.80 v-2.0 M560.71,587.96 v-2.0 M564.16,589.98 v-2.0 M576.50,598.28 v-2.0 M582.48,600.85 v-2.0 M589.07,606.35 v-2.0 M595.76,608.64 v-2.0 M627.24,613.50 v-2.0 M628.79,616.16 v-2.0 M633.36,616.36 v-2.0" stroke="#1e1e96" stroke-width="0.8" fill="none"/>
<line x1="547.10" y1="533.70" x2="556.60" y2="533.70" stroke="#ff1e1e" stroke-width="1.1" />
<line x1="551.85" y1="533.70" x2="551.85" y2="531.40" stroke="#ff1e1e" stroke-width="1.0" />
<text x="560.80" y="535.50" font-size="6.88" text-anchor="start" fill="#000" font-weight="normal"  style="">FDFT1 high and HK2 low</text>
<line x1="547.10" y1="544.40" x2="556.60" y2="544.40" stroke="#1e1e96" stroke-width="1.1" />
<line x1="551.85" y1="544.40" x2="551.85" y2="542.10" stroke="#1e1e96" stroke-width="1.0" />
<text x="560.80" y="546.20" font-size="6.88" text-anchor="start" fill="#000" font-weight="normal"  style="">FDFT1 low and HK2 high</text>
<line x1="547.10" y1="555.40" x2="556.60" y2="555.40" stroke="#22c822" stroke-width="1.1" />
<line x1="551.85" y1="555.40" x2="551.85" y2="553.10" stroke="#22c822" stroke-width="1.0" />
<text x="560.80" y="557.20" font-size="6.88" text-anchor="start" fill="#000" font-weight="normal"  style="">FDFT1 high and HK2 high</text>
<line x1="547.10" y1="566.40" x2="556.60" y2="566.40" stroke="#ff7f40" stroke-width="1.1" />
<line x1="551.85" y1="566.40" x2="551.85" y2="564.10" stroke="#ff7f40" stroke-width="1.0" />
<text x="560.80" y="568.20" font-size="6.88" text-anchor="start" fill="#000" font-weight="normal"  style="">FDFT1 low and HK2 low</text>
<path d="M642.30,532.20 H645.20 V544.60 H642.30" fill="none" stroke="#666" stroke-width="0.85"/>
<text x="648.20" y="541.40" font-size="6.6"><tspan font-style="italic">P</tspan> = 0.0434</text>
<path d="M645.40,555.20 H648.30 V567.60 H645.40" fill="none" stroke="#666" stroke-width="0.85"/>
<text x="650.40" y="563.70" font-size="6.6"><tspan font-style="italic">P</tspan> = 0.0247</text>
<text x="183.60" y="703.00" font-size="16" text-anchor="start" fill="#000" font-weight="bold"  style="">k</text>
<text x="273.70" y="707.70" font-size="11.4" text-anchor="start" fill="#6a2c9c" font-weight="normal"  style="">CRC</text>
<path d="M520.45,844.95 L519.54,851.65 L518.15,858.30 L516.28,864.89 L513.94,871.39 L511.13,877.79 L507.85,884.07 L504.13,890.20 M498.07,898.68 L493.28,904.43 L488.08,909.98 L482.49,915.31 L476.51,920.41 L470.17,925.26 L463.49,929.85 M453.46,935.89 L445.78,939.92 L437.81,943.61 L429.58,946.98 L421.11,949.99 L412.43,952.65 L403.56,954.95 L394.53,956.87 L385.37,958.42 M372.62,959.92 L363.33,960.55 L354.00,960.80 L344.68,960.66 L335.38,960.14 L326.13,959.23 L316.96,957.95 L307.91,956.29 L298.99,954.26 L290.24,951.86 M278.44,947.96 L270.63,944.91 L263.06,941.57 L255.72,937.93 L248.66,934.02 L241.88,929.83 L235.40,925.39 L229.25,920.70 L223.43,915.78 L217.97,910.63 L212.88,905.29 L208.18,899.75 L203.87,894.03 L199.97,888.16 L196.49,882.14 L193.43,876.00 L190.82,869.74 L188.65,863.39 L186.93,856.97 L185.66,850.49 L184.86,843.96 L184.51,837.42 L184.63,830.87 L185.21,824.33 L186.25,817.83 L187.74,811.37 L189.69,804.98 L192.09,798.68 L194.92,792.48 L198.19,786.40 L201.89,780.45 L206.00,774.65 L210.51,769.03 L215.41,763.58 L220.69,758.34 L226.33,753.30 L232.32,748.50 M241.69,741.89 L249.38,737.16 L257.43,732.78 L265.82,728.77 L274.51,725.13 M286.17,720.99 L293.04,718.93 L300.03,717.09 L307.11,715.48 L314.29,714.10 M326.97,712.27 L336.65,711.37 L346.39,710.89 L356.15,710.83 L365.90,711.19 L375.60,711.96 L385.23,713.16 L394.74,714.77 L404.12,716.78 M416.25,720.07 L424.79,722.86 L433.10,726.01 L441.17,729.49 L448.96,733.29 L456.46,737.42 L463.64,741.84 L470.48,746.56 L476.95,751.55 L483.05,756.80 M490.82,764.46 L495.88,770.20 L500.50,776.14 L504.69,782.25 L508.41,788.53 L511.67,794.95 L514.44,801.50 L516.73,808.15 L518.53,814.88 L519.82,821.67 L520.61,828.51 L520.90,835.36 " fill="none" stroke="#c4c4c4" stroke-width="0.8"/>
<path d="M517.56,844.74 L516.67,851.28 L515.30,857.78 L513.46,864.21 L511.16,870.57 L508.39,876.82 L505.18,882.95 L501.52,888.94 M495.56,897.22 L490.86,902.84 L485.75,908.26 L480.25,913.47 L474.38,918.45 L468.15,923.19 L461.58,927.67 M451.72,933.57 L444.18,937.50 L436.35,941.11 L428.26,944.40 L419.93,947.34 L411.40,949.94 L402.68,952.18 L393.81,954.06 L384.81,955.57 M372.27,957.04 L363.14,957.66 L353.98,957.90 L344.82,957.76 L335.68,957.25 L326.59,956.37 L317.58,955.11 L308.68,953.49 L299.92,951.51 L291.31,949.17 M279.72,945.36 L272.05,942.38 L264.60,939.11 L257.40,935.56 L250.45,931.74 L243.79,927.65 L237.42,923.31 L231.38,918.73 L225.66,913.92 L220.30,908.90 L215.29,903.67 L210.67,898.26 L206.43,892.68 L202.60,886.95 L199.18,881.07 L196.18,875.06 L193.61,868.95 L191.48,862.75 L189.79,856.48 L188.54,850.15 L187.75,843.77 L187.41,837.38 L187.53,830.98 L188.10,824.60 L189.12,818.24 L190.59,811.94 L192.50,805.70 L194.86,799.54 L197.64,793.48 L200.86,787.54 L204.49,781.73 L208.53,776.07 L212.96,770.58 L217.78,765.26 L222.97,760.13 L228.51,755.22 L234.40,750.52 M243.60,744.07 L251.16,739.45 L259.07,735.17 L267.32,731.25 L275.86,727.69 M287.32,723.66 L294.07,721.64 L300.93,719.84 L307.90,718.27 L314.95,716.93 M327.41,715.14 L336.93,714.26 L346.50,713.79 L356.09,713.73 L365.67,714.08 L375.21,714.84 L384.67,716.00 L394.02,717.58 L403.23,719.55 M415.16,722.75 L423.55,725.48 L431.72,728.55 L439.64,731.95 L447.30,735.67 L454.67,739.70 L461.73,744.02 L468.45,748.63 L474.81,753.50 L480.80,758.63 M488.44,766.12 L493.41,771.72 L497.96,777.52 L502.07,783.50 L505.73,789.63 L508.93,795.90 L511.65,802.29 L513.90,808.79 L515.67,815.36 L516.94,822.00 L517.72,828.67 L518.00,835.37 " fill="none" stroke="#cfcfcf" stroke-width="0.8"/>
<g filter="url(#cellblur)">
<path d="M312.9,738.3 Q311.7,763.2 316.9,789.0 L320.1,788.4 Q314.9,763.2 316.1,736.9 Z" fill="#c9c9cf" stroke="#5a5a78" stroke-width="0.55"/>
<path d="M314.7,739.5 Q313.5,763.2 318.7,787.0" fill="none" stroke="#8a8a84" stroke-width="0.9"/>
<path d="M308.8,742.2 Q307.8,765.8 313.2,790.1 L316.4,789.5 Q311.0,765.8 312.0,740.8 Z" fill="#c9c9cf" stroke="#5a5a78" stroke-width="0.55"/>
<path d="M310.6,743.4 Q309.6,765.8 315.0,788.1" fill="none" stroke="#8a8a84" stroke-width="0.9"/>
<path d="M304.6,746.0 Q303.8,768.2 309.5,791.3 L312.7,790.7 Q307.0,768.2 307.8,744.6 Z" fill="#c9c9cf" stroke="#5a5a78" stroke-width="0.55"/>
<path d="M306.4,747.2 Q305.6,768.2 311.3,789.3" fill="none" stroke="#8a8a84" stroke-width="0.9"/>
<path d="M300.5,749.9 Q299.9,770.8 305.8,792.4 L309.0,791.8 Q303.1,770.8 303.7,748.5 Z" fill="#c9c9cf" stroke="#5a5a78" stroke-width="0.55"/>
<path d="M302.3,751.1 Q301.7,770.8 307.6,790.4" fill="none" stroke="#8a8a84" stroke-width="0.9"/>
<path d="M296.3,753.7 Q296.0,773.2 302.0,793.6 L305.2,793.0 Q299.2,773.2 299.5,752.3 Z" fill="#c9c9cf" stroke="#5a5a78" stroke-width="0.55"/>
<path d="M298.1,754.9 Q297.8,773.2 303.8,791.6" fill="none" stroke="#8a8a84" stroke-width="0.9"/>
<path d="M292.2,757.6 Q292.1,775.8 298.3,794.7 L301.5,794.1 Q295.3,775.8 295.4,756.2 Z" fill="#c4c0ee" stroke="#5a5a78" stroke-width="0.55"/>
<path d="M294.0,758.8 Q293.9,775.8 300.1,792.7" fill="none" stroke="#8a8a84" stroke-width="0.9"/>
<path d="M288.0,761.4 Q288.1,778.2 294.6,795.9 L297.8,795.3 Q291.3,778.2 291.2,760.0 Z" fill="#c4c0ee" stroke="#5a5a78" stroke-width="0.55"/>
<path d="M289.8,762.6 Q289.9,778.2 296.4,793.9" fill="none" stroke="#8a8a84" stroke-width="0.9"/>
<path d="M283.9,765.3 Q284.2,780.8 290.9,797.0 L294.1,796.4 Q287.4,780.8 287.1,763.9 Z" fill="#c4c0ee" stroke="#5a5a78" stroke-width="0.55"/>
<path d="M285.7,766.5 Q286.0,780.8 292.7,795.0" fill="none" stroke="#8a8a84" stroke-width="0.9"/>
<path d="M285,778 C287,788 292,795 300,797.5 L296,784 Z" fill="#b6b0f0" opacity="0.9"/>
<circle cx="288" cy="770" r="0.6" fill="#3a3a90"/>
<circle cx="291" cy="784" r="0.6" fill="#3a3a90"/>
<circle cx="294" cy="791" r="0.6" fill="#3a3a90"/>
<circle cx="289" cy="776" r="0.6" fill="#3a3a90"/>
<circle cx="300" cy="751" r="0.6" fill="#3a3a90"/>
<circle cx="305" cy="745" r="0.6" fill="#3a3a90"/>
<circle cx="296" cy="760" r="0.6" fill="#3a3a90"/>
<circle cx="286" cy="767" r="0.6" fill="#3a3a90"/>
<circle cx="293" cy="795" r="0.6" fill="#3a3a90"/>
<path d="M364,738 L370,742 L372.5,756 L369,766 L366,760 Z" fill="#6e6e74"/>
<path d="M317,737 C321,729 331,724.6 341,724.6 C350,724.6 358,726.5 363,730.5 C367,734 369.5,741 369.8,750 C370,758 368.5,766 364,772 C358,780 349,783.5 341,783.5 C331,783 323,778 318.5,771.5 C314,765 312.6,758 312.7,752 C312.9,746 314,741 317,737 Z" fill="#4537c6"/>
<path d="M317,737 C321,729 331,724.6 341,724.6 C347,724.6 352,725.5 356,727 C345,728 333,733 327,742 C321,752 319,765 322,776 C316.5,771 313,764 312.7,756 C312.5,749 313.5,742 317,737 Z" fill="#3b2db4"/>
<path d="M323.5,774 C324.5,760 329,747 336,740 C342,734 350,730.8 357,730.6 C361,730.5 364.5,732 366.5,735.5 C368,739 367,744 366,748.5 C367.8,752 369,756 368.6,760.5 C368,767 364,772 358,775.5 C350,779 336,778.8 323.5,774 Z" fill="url(#cutface)"/>
<line x1="347.5" y1="760.0" x2="363.5" y2="760.0" stroke="#ffffff" stroke-width="0.35" opacity="0.55"/>
<line x1="347.5" y1="760.0" x2="363.1" y2="763.4" stroke="#ffffff" stroke-width="0.35" opacity="0.55"/>
<line x1="347.5" y1="760.0" x2="361.9" y2="766.6" stroke="#ffffff" stroke-width="0.35" opacity="0.55"/>
<line x1="347.5" y1="760.0" x2="360.0" y2="769.5" stroke="#ffffff" stroke-width="0.35" opacity="0.55"/>
<line x1="347.5" y1="760.0" x2="357.5" y2="771.9" stroke="#ffffff" stroke-width="0.35" opacity="0.55"/>
<line x1="347.5" y1="760.0" x2="354.4" y2="773.7" stroke="#ffffff" stroke-width="0.35" opacity="0.55"/>
<line x1="347.5" y1="760.0" x2="351.1" y2="774.8" stroke="#ffffff" stroke-width="0.35" opacity="0.55"/>
<line x1="347.5" y1="760.0" x2="347.5" y2="775.2" stroke="#ffffff" stroke-width="0.35" opacity="0.55"/>
<line x1="347.5" y1="760.0" x2="343.9" y2="774.8" stroke="#ffffff" stroke-width="0.35" opacity="0.55"/>
<line x1="347.5" y1="760.0" x2="340.6" y2="773.7" stroke="#ffffff" stroke-width="0.35" opacity="0.55"/>
<line x1="347.5" y1="760.0" x2="337.5" y2="771.9" stroke="#ffffff" stroke-width="0.35" opacity="0.55"/>
<line x1="347.5" y1="760.0" x2="335.0" y2="769.5" stroke="#ffffff" stroke-width="0.35" opacity="0.55"/>
<line x1="347.5" y1="760.0" x2="333.1" y2="766.6" stroke="#ffffff" stroke-width="0.35" opacity="0.55"/>
<line x1="347.5" y1="760.0" x2="331.9" y2="763.4" stroke="#ffffff" stroke-width="0.35" opacity="0.55"/>
<line x1="347.5" y1="760.0" x2="331.5" y2="760.0" stroke="#ffffff" stroke-width="0.35" opacity="0.55"/>
<line x1="347.5" y1="760.0" x2="331.9" y2="756.6" stroke="#ffffff" stroke-width="0.35" opacity="0.55"/>
<line x1="347.5" y1="760.0" x2="333.1" y2="753.4" stroke="#ffffff" stroke-width="0.35" opacity="0.55"/>
<line x1="347.5" y1="760.0" x2="335.0" y2="750.5" stroke="#ffffff" stroke-width="0.35" opacity="0.55"/>
<line x1="347.5" y1="760.0" x2="337.5" y2="748.1" stroke="#ffffff" stroke-width="0.35" opacity="0.55"/>
<line x1="347.5" y1="760.0" x2="340.6" y2="746.3" stroke="#ffffff" stroke-width="0.35" opacity="0.55"/>
<line x1="347.5" y1="760.0" x2="343.9" y2="745.2" stroke="#ffffff" stroke-width="0.35" opacity="0.55"/>
<line x1="347.5" y1="760.0" x2="347.5" y2="744.8" stroke="#ffffff" stroke-width="0.35" opacity="0.55"/>
<line x1="347.5" y1="760.0" x2="351.1" y2="745.2" stroke="#ffffff" stroke-width="0.35" opacity="0.55"/>
<line x1="347.5" y1="760.0" x2="354.4" y2="746.3" stroke="#ffffff" stroke-width="0.35" opacity="0.55"/>
<line x1="347.5" y1="760.0" x2="357.5" y2="748.1" stroke="#ffffff" stroke-width="0.35" opacity="0.55"/>
<line x1="347.5" y1="760.0" x2="360.0" y2="750.5" stroke="#ffffff" stroke-width="0.35" opacity="0.55"/>
<line x1="347.5" y1="760.0" x2="361.9" y2="753.4" stroke="#ffffff" stroke-width="0.35" opacity="0.55"/>
<line x1="347.5" y1="760.0" x2="363.1" y2="756.6" stroke="#ffffff" stroke-width="0.35" opacity="0.55"/>
<path d="M323.5,774 C336,778.8 350,779 358,775.5" fill="none" stroke="#5a6af0" stroke-width="1.0"/>
<circle cx="324.5" cy="736.5" r="0.9" fill="#d08a40"/>
<circle cx="328" cy="738" r="0.9" fill="#2050e0"/>
<circle cx="330" cy="734" r="0.9" fill="#1040d0"/>
<circle cx="333" cy="731" r="0.9" fill="#2a2070"/>
<circle cx="318" cy="749" r="0.9" fill="#c07a40"/>
<circle cx="321" cy="752" r="0.9" fill="#1a40c0"/>
<circle cx="314.5" cy="757" r="0.9" fill="#a06a40"/>
<circle cx="344" cy="780.5" r="0.9" fill="#a06a40"/>
<circle cx="348" cy="726" r="0.9" fill="#5a3a90"/>
</g>
<rect x="312.7" y="801.8" width="143.8" height="40.4" fill="#9fc6f2" filter="url(#glow)"/>
<rect x="315.3" y="804.4" width="138.6" height="35.2" fill="#bdbdbd"/>
<rect x="403.0" y="870.3" width="92.7" height="25.3" fill="#d2f0a0" filter="url(#glow)"/>
<rect x="405.6" y="872.9" width="87.5" height="20.1" fill="#bdbdbd"/>
<rect x="293.9" y="917.6" width="98.4" height="25.7" fill="#9fc6f2" filter="url(#glow)"/>
<rect x="296.5" y="920.2" width="93.2" height="20.5" fill="#bdbdbd"/>
<text x="329.80" y="818.30" font-size="11.8" text-anchor="start" fill="#1a1a1a" font-weight="normal"  style="">AKT-mTOR-HIF 1a</text>
<text x="380.00" y="832.60" font-size="11.8" text-anchor="middle" fill="#1a1a1a" font-weight="normal"  style="">pathway</text>
<text x="423.80" y="886.70" font-size="11.5" text-anchor="start" fill="#1a1a1a" font-weight="normal"  style="">Glycolysis</text>
<text x="309.40" y="934.70" font-size="11.5" text-anchor="start" fill="#1a1a1a" font-weight="normal"  style="">Proliferation</text>
<line x1="277.80" y1="857.20" x2="313.80" y2="835.20" stroke="#ee1c24" stroke-width="1.9" />
<line x1="308.85" y1="827.09" x2="318.75" y2="843.31" stroke="#ee1c24" stroke-width="1.9" />
<line x1="455.00" y1="834.70" x2="467.30" y2="866.00" stroke="#ee1c24" stroke-width="1.9" />
<line x1="474.65" y1="863.11" x2="459.95" y2="868.89" stroke="#ee1c24" stroke-width="1.9" />
<line x1="416.30" y1="901.90" x2="390.60" y2="918.20" stroke="#ee1c24" stroke-width="1.9" />
<line x1="394.67" y1="924.62" x2="386.53" y2="911.78" stroke="#ee1c24" stroke-width="1.9" />
<line x1="320.30" y1="850.00" x2="288.00" y2="870.90" stroke="#dc9a9a" stroke-width="1.6" />
<line x1="293.27" y1="879.04" x2="282.73" y2="862.76" stroke="#dc9a9a" stroke-width="1.6" />
<g transform="translate(286.6,890.3) rotate(-33.8)" fill="#e09494">
<text x="0" y="0" font-size="7.2" fill="#e09494">mTOR</text>
<text x="38.4" y="0" font-size="7.2" fill="#e09494">FDFT1</text>
<path d="M25.6,0.2 V-5.4 M23.4,-3.1 L25.6,-5.5 L27.8,-3.1 M30.3,-2.6 H36.6 M34.3,-4.8 L36.7,-2.6 L34.3,-0.4 M63.2,-5.6 V0 M61.0,-2.3 L63.2,0.1 L65.4,-2.3" fill="none" stroke="#e09494" stroke-width="1.05"/>
</g>
<text x="207.80" y="865.90" font-size="11.1" text-anchor="start" fill="#ff1e1e" font-weight="normal"  style="">FDFT1</text>
<text x="180.90" y="939.30" font-size="11.8" text-anchor="start" fill="#1ec81e" font-weight="normal"  style="">Fasting</text>
<path d="M243.4,881.4 H258.0 L265.0,888.4 V898.9 L258.0,905.9 H243.4 L236.4,898.9 V888.4 Z" fill="#f7a0a0" stroke="#f7a0a0" stroke-width="7" stroke-linejoin="round" filter="url(#glow2)"/>
<path d="M243.4,881.4 H258.0 L265.0,888.4 V898.9 L258.0,905.9 H243.4 L236.4,898.9 V888.4 Z" fill="none" stroke="#f4a4a4" stroke-width="2.6" stroke-linejoin="round" opacity="0.9"/>
<path d="M243.4,881.4 H258.0 L265.0,888.4 V898.9 L258.0,905.9 H243.4 L236.4,898.9 V888.4 Z" fill="#8f8753"/>
<path d="M265.9,898.6 L266.9,875.5 L268.3,875.5 L268.5,898.6 Z" fill="#8f8753"/>
<path d="M267.5,864.5 L273.2,876.0 L267.7,874.4 L261.9,876.0 Z" fill="#8f8753"/>
<line x1="203.70" y1="923.10" x2="228.00" y2="904.30" stroke="#ee1c24" stroke-width="1.6" />
<path d="M222.0,905.2 L228.7,903.8 L225.6,909.9" fill="none" stroke="#ee1c24" stroke-width="1.6"/>
</svg></body></html>
